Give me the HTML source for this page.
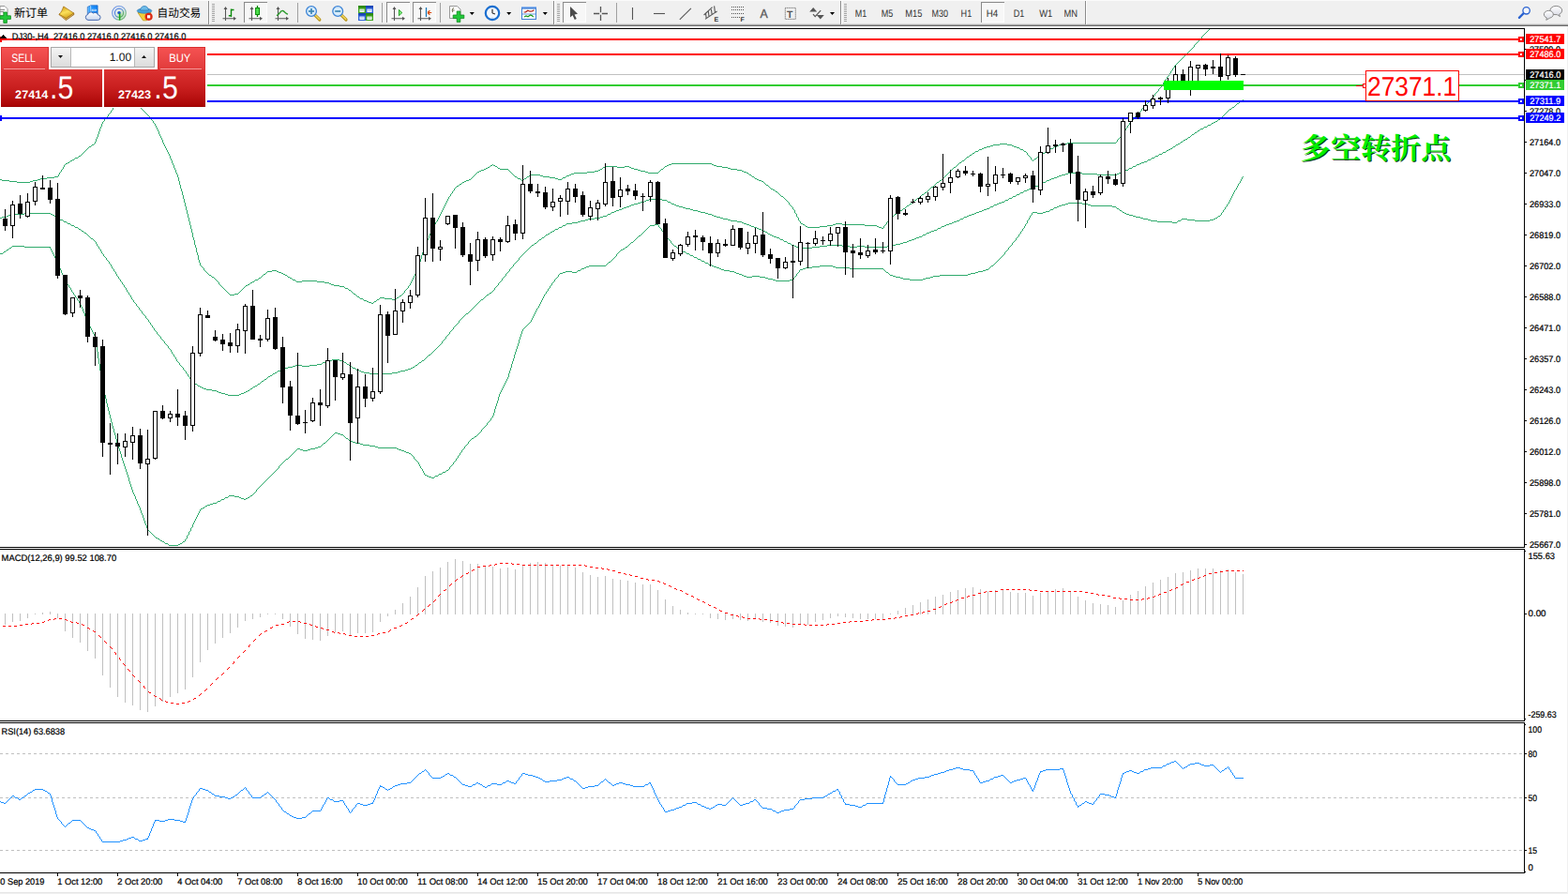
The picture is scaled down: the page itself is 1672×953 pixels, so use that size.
<!DOCTYPE html>
<html><head><meta charset="utf-8"><title>DJ30-,H4</title>
<style>
html,body{margin:0;padding:0;background:#fff;}
body{width:1672px;height:953px;overflow:hidden;position:relative;font-family:"Liberation Sans",sans-serif;}
svg{position:absolute;left:0;top:0;display:block;font-family:"Liberation Sans",sans-serif;}
</style></head><body>
<svg width="1672" height="953" viewBox="0 0 1672 953" text-rendering="geometricPrecision">
<defs><clipPath id="cpMain"><rect x="0" y="31" width="1625" height="552"/></clipPath></defs>
<!-- chart -->
<rect x="0" y="0" width="1672" height="953" fill="#fff"/>
<g shape-rendering="crispEdges">
<rect x="1626" y="580" width="2" height="1" fill="#000"/>
<rect x="1626" y="547" width="2" height="1" fill="#000"/>
<rect x="1626" y="514" width="2" height="1" fill="#000"/>
<rect x="1626" y="481" width="2" height="1" fill="#000"/>
<rect x="1626" y="448" width="2" height="1" fill="#000"/>
<rect x="1626" y="415" width="2" height="1" fill="#000"/>
<rect x="1626" y="382" width="2" height="1" fill="#000"/>
<rect x="1626" y="349" width="2" height="1" fill="#000"/>
<rect x="1626" y="316" width="2" height="1" fill="#000"/>
<rect x="1626" y="283" width="2" height="1" fill="#000"/>
<rect x="1626" y="250" width="2" height="1" fill="#000"/>
<rect x="1626" y="217" width="2" height="1" fill="#000"/>
<rect x="1626" y="184" width="2" height="1" fill="#000"/>
<rect x="1626" y="151" width="2" height="1" fill="#000"/>
<rect x="1626" y="118" width="2" height="1" fill="#000"/>
<rect x="1626" y="85" width="2" height="1" fill="#000"/>
<rect x="1626" y="52" width="2" height="1" fill="#000"/>
</g>
<text x="1631" y="583.9" font-size="9.6" fill="#000" stroke="#000" stroke-width="0.22" textLength="33" lengthAdjust="spacingAndGlyphs">25667.0</text>
<text x="1631" y="550.9" font-size="9.6" fill="#000" stroke="#000" stroke-width="0.22" textLength="33" lengthAdjust="spacingAndGlyphs">25781.0</text>
<text x="1631" y="517.9" font-size="9.6" fill="#000" stroke="#000" stroke-width="0.22" textLength="33" lengthAdjust="spacingAndGlyphs">25898.0</text>
<text x="1631" y="484.9" font-size="9.6" fill="#000" stroke="#000" stroke-width="0.22" textLength="33" lengthAdjust="spacingAndGlyphs">26012.0</text>
<text x="1631" y="451.9" font-size="9.6" fill="#000" stroke="#000" stroke-width="0.22" textLength="33" lengthAdjust="spacingAndGlyphs">26126.0</text>
<text x="1631" y="418.9" font-size="9.6" fill="#000" stroke="#000" stroke-width="0.22" textLength="33" lengthAdjust="spacingAndGlyphs">26243.0</text>
<text x="1631" y="385.9" font-size="9.6" fill="#000" stroke="#000" stroke-width="0.22" textLength="33" lengthAdjust="spacingAndGlyphs">26357.0</text>
<text x="1631" y="352.9" font-size="9.6" fill="#000" stroke="#000" stroke-width="0.22" textLength="33" lengthAdjust="spacingAndGlyphs">26471.0</text>
<text x="1631" y="319.9" font-size="9.6" fill="#000" stroke="#000" stroke-width="0.22" textLength="33" lengthAdjust="spacingAndGlyphs">26588.0</text>
<text x="1631" y="286.9" font-size="9.6" fill="#000" stroke="#000" stroke-width="0.22" textLength="33" lengthAdjust="spacingAndGlyphs">26702.0</text>
<text x="1631" y="253.9" font-size="9.6" fill="#000" stroke="#000" stroke-width="0.22" textLength="33" lengthAdjust="spacingAndGlyphs">26819.0</text>
<text x="1631" y="220.9" font-size="9.6" fill="#000" stroke="#000" stroke-width="0.22" textLength="33" lengthAdjust="spacingAndGlyphs">26933.0</text>
<text x="1631" y="187.9" font-size="9.6" fill="#000" stroke="#000" stroke-width="0.22" textLength="33" lengthAdjust="spacingAndGlyphs">27047.0</text>
<text x="1631" y="154.9" font-size="9.6" fill="#000" stroke="#000" stroke-width="0.22" textLength="33" lengthAdjust="spacingAndGlyphs">27164.0</text>
<text x="1631" y="121.9" font-size="9.6" fill="#000" stroke="#000" stroke-width="0.22" textLength="33" lengthAdjust="spacingAndGlyphs">27278.0</text>
<text x="1631" y="88.9" font-size="9.6" fill="#000" stroke="#000" stroke-width="0.22" textLength="33" lengthAdjust="spacingAndGlyphs">27392.0</text>
<text x="1631" y="55.9" font-size="9.6" fill="#000" stroke="#000" stroke-width="0.22" textLength="33" lengthAdjust="spacingAndGlyphs">27509.0</text>
<g fill="none" stroke="#2faa6c" stroke-width="1" shape-rendering="crispEdges">
<path d="M1289,31.5h1M1288,32.5h1M1287,33.5h1M1286,34.5h1M1285,35.5h1M1284,36.5h1M1283,37.5h1M1282,38.5h1M1281,39.5h1M1281,40.5h1M1280,41.5h1M1279,42.5h1M1278,43.5h1M1277,44.5h1M1276,45.5h1M1275,46.5h1M1274,47.5h1M1273,48.5h1M1273,49.5h1M1272,50.5h1M1271,51.5h1M1270,52.5h1M1269,53.5h1M1268,54.5h1M1267,55.5h1M1266,56.5h1M1265,57.5h1M1264,58.5h1M1263,59.5h1M1262,60.5h1M1261,61.5h1M1260,62.5h1M1259,63.5h1M1258,64.5h1M1257,65.5h1M1256,66.5h1M1255,67.5h1M1254,68.5h1M1253,69.5h1M1252,70.5h1M1252,71.5h1M1251,72.5h1M1250,73.5h1M1250,74.5h1M1249,75.5h1M1248,76.5h1M1248,77.5h1M1247,78.5h1M1246,79.5h1M1246,80.5h1M1245,81.5h1M1244,82.5h1M1244,83.5h1M1243,84.5h1M1242,85.5h1M1242,86.5h1M1241,87.5h1M1240,88.5h1M1240,89.5h1M1239,90.5h1M1238,91.5h1M1238,92.5h1M1237,93.5h1M1236,94.5h1M1235,95.5h1M1235,96.5h1M1234,97.5h1M1233,98.5h1M1232,99.5h1M1231,100.5h1M1231,101.5h1M1230,102.5h1M1229,103.5h1M1228,104.5h1M132,105.5h4M1227,105.5h1M129,106.5h3M136,106.5h3M1226,106.5h1M127,107.5h2M139,107.5h3M1225,107.5h1M125,108.5h2M142,108.5h1M1225,108.5h1M124,109.5h1M143,109.5h1M1224,109.5h1M124,110.5h1M144,110.5h1M1223,110.5h1M123,111.5h1M145,111.5h2M1222,111.5h1M122,112.5h1M147,112.5h1M1221,112.5h1M122,113.5h1M148,113.5h1M1220,113.5h1M121,114.5h1M149,114.5h1M1219,114.5h1M120,115.5h1M150,115.5h1M1218,115.5h1M120,116.5h1M151,116.5h1M1217,116.5h1M119,117.5h1M152,117.5h1M1217,117.5h1M118,118.5h1M153,118.5h1M1216,118.5h1M118,119.5h1M154,119.5h1M1215,119.5h1M117,120.5h1M155,120.5h1M1214,120.5h1M116,121.5h1M156,121.5h1M1213,121.5h1M115,122.5h1M157,122.5h1M1212,122.5h1M115,123.5h1M158,123.5h1M1211,123.5h1M114,124.5h1M159,124.5h1M1210,124.5h1M113,125.5h1M159,125.5h1M1209,125.5h1M112,126.5h1M160,126.5h1M1209,126.5h1M111,127.5h1M161,127.5h1M1208,127.5h1M111,128.5h1M162,128.5h1M1207,128.5h1M110,129.5h1M163,129.5h1M1206,129.5h1M109,130.5h1M163,130.5h1M1205,130.5h1M109,131.5h1M164,131.5h1M1204,131.5h1M108,132.5h1M165,132.5h1M1204,132.5h1M108,133.5h1M165,133.5h1M1203,133.5h1M108,134.5h1M166,134.5h1M1202,134.5h1M107,135.5h1M166,135.5h1M1202,135.5h1M107,136.5h1M167,136.5h1M1201,136.5h1M106,137.5h1M167,137.5h1M1200,137.5h1M106,138.5h1M168,138.5h1M1200,138.5h1M106,139.5h1M168,139.5h1M1199,139.5h1M105,140.5h1M169,140.5h1M1198,140.5h1M105,141.5h1M169,141.5h1M1198,141.5h1M105,142.5h1M169,142.5h1M1197,142.5h1M104,143.5h1M170,143.5h1M1196,143.5h1M104,144.5h1M170,144.5h1M1195,144.5h1M104,145.5h1M171,145.5h1M1195,145.5h1M103,146.5h1M171,146.5h1M1194,146.5h1M103,147.5h1M172,147.5h1M1193,147.5h1M102,148.5h1M172,148.5h1M1192,148.5h1M102,149.5h1M173,149.5h1M1191,149.5h1M102,150.5h1M173,150.5h1M1191,150.5h1M101,151.5h1M173,151.5h1M1190,151.5h1M101,152.5h1M174,152.5h1M1138,152.5h52M100,153.5h1M174,153.5h1M1066,153.5h8M1132,153.5h6M98,154.5h2M175,154.5h1M1059,154.5h7M1074,154.5h5M1129,154.5h3M97,155.5h1M175,155.5h1M1056,155.5h3M1079,155.5h2M1127,155.5h2M95,156.5h2M176,156.5h1M1052,156.5h4M1081,156.5h3M1124,156.5h3M94,157.5h1M176,157.5h1M1049,157.5h3M1084,157.5h3M1123,157.5h1M93,158.5h1M177,158.5h1M1047,158.5h2M1087,158.5h1M1120,158.5h3M92,159.5h1M177,159.5h1M1044,159.5h3M1088,159.5h3M1119,159.5h1M91,160.5h1M178,160.5h1M1043,160.5h1M1091,160.5h1M1117,160.5h2M90,161.5h1M178,161.5h1M1040,161.5h3M1092,161.5h2M1115,161.5h2M89,162.5h1M179,162.5h1M1039,162.5h1M1094,162.5h1M1114,162.5h1M88,163.5h1M179,163.5h1M1037,163.5h2M1095,163.5h1M1112,163.5h2M87,164.5h1M180,164.5h1M1036,164.5h1M1095,164.5h1M1110,164.5h2M86,165.5h1M180,165.5h1M1034,165.5h2M1096,165.5h1M1109,165.5h1M84,166.5h2M181,166.5h1M1033,166.5h1M1097,166.5h1M1108,166.5h1M83,167.5h1M181,167.5h1M1031,167.5h2M1098,167.5h1M1106,167.5h2M80,168.5h3M181,168.5h1M1030,168.5h1M1099,168.5h1M1105,168.5h1M79,169.5h1M182,169.5h1M1029,169.5h1M1099,169.5h1M1103,169.5h2M77,170.5h2M182,170.5h1M1028,170.5h1M1100,170.5h1M1102,170.5h1M75,171.5h2M183,171.5h1M1026,171.5h2M1101,171.5h1M74,172.5h1M183,172.5h1M1025,172.5h1M72,173.5h2M183,173.5h1M1023,173.5h2M70,174.5h2M184,174.5h1M716,174.5h43M1022,174.5h1M69,175.5h1M184,175.5h1M525,175.5h1M713,175.5h3M759,175.5h2M1021,175.5h1M68,176.5h1M185,176.5h1M523,176.5h2M526,176.5h2M711,176.5h2M761,176.5h3M1020,176.5h1M68,177.5h1M185,177.5h1M522,177.5h1M528,177.5h2M645,177.5h13M666,177.5h5M709,177.5h2M764,177.5h6M1019,177.5h1M67,178.5h1M185,178.5h1M520,178.5h2M530,178.5h1M643,178.5h2M658,178.5h8M671,178.5h2M708,178.5h1M770,178.5h6M1017,178.5h2M67,179.5h1M186,179.5h1M518,179.5h2M531,179.5h2M642,179.5h1M673,179.5h3M707,179.5h1M776,179.5h3M1016,179.5h1M66,180.5h1M186,180.5h1M516,180.5h2M533,180.5h9M640,180.5h2M676,180.5h4M705,180.5h2M779,180.5h7M1015,180.5h1M65,181.5h1M187,181.5h1M513,181.5h3M542,181.5h1M638,181.5h2M680,181.5h3M704,181.5h1M786,181.5h5M1014,181.5h1M65,182.5h1M187,182.5h1M511,182.5h2M543,182.5h1M634,182.5h4M683,182.5h5M703,182.5h1M791,182.5h2M1013,182.5h1M64,183.5h1M187,183.5h1M509,183.5h2M544,183.5h1M626,183.5h8M688,183.5h3M702,183.5h1M793,183.5h3M1012,183.5h1M63,184.5h1M188,184.5h1M508,184.5h1M545,184.5h1M612,184.5h14M691,184.5h11M796,184.5h2M1011,184.5h1M63,185.5h1M188,185.5h1M507,185.5h1M546,185.5h1M609,185.5h3M798,185.5h1M1010,185.5h1M62,186.5h1M189,186.5h1M506,186.5h1M547,186.5h1M565,186.5h11M607,186.5h2M799,186.5h2M1009,186.5h1M62,187.5h1M189,187.5h1M505,187.5h1M548,187.5h1M564,187.5h1M576,187.5h3M604,187.5h3M801,187.5h1M1008,187.5h1M58,188.5h4M189,188.5h1M504,188.5h1M549,188.5h2M562,188.5h2M579,188.5h7M603,188.5h1M802,188.5h2M1007,188.5h1M50,189.5h8M190,189.5h1M503,189.5h1M551,189.5h1M561,189.5h1M586,189.5h6M600,189.5h3M804,189.5h1M1006,189.5h1M43,190.5h7M190,190.5h1M502,190.5h1M552,190.5h3M559,190.5h2M592,190.5h3M599,190.5h1M805,190.5h2M1005,190.5h1M0,191.5h2M40,191.5h3M190,191.5h1M500,191.5h2M555,191.5h1M558,191.5h1M595,191.5h4M807,191.5h2M1004,191.5h1M2,192.5h8M35,192.5h5M190,192.5h1M497,192.5h3M556,192.5h2M809,192.5h3M1002,192.5h2M10,193.5h8M32,193.5h3M191,193.5h1M495,193.5h2M812,193.5h2M1001,193.5h1M18,194.5h14M191,194.5h1M493,194.5h2M814,194.5h1M999,194.5h2M191,195.5h1M492,195.5h1M815,195.5h1M998,195.5h1M191,196.5h1M490,196.5h2M816,196.5h1M997,196.5h1M192,197.5h1M489,197.5h1M817,197.5h2M996,197.5h1M192,198.5h1M487,198.5h2M819,198.5h1M995,198.5h1M192,199.5h1M486,199.5h1M820,199.5h1M993,199.5h2M192,200.5h1M485,200.5h1M821,200.5h1M992,200.5h1M193,201.5h1M484,201.5h1M822,201.5h2M991,201.5h1M193,202.5h1M484,202.5h1M824,202.5h2M990,202.5h1M193,203.5h1M483,203.5h1M826,203.5h1M989,203.5h1M194,204.5h1M482,204.5h1M827,204.5h2M988,204.5h1M194,205.5h1M482,205.5h1M829,205.5h1M986,205.5h2M194,206.5h1M481,206.5h1M830,206.5h1M985,206.5h1M194,207.5h1M480,207.5h1M831,207.5h1M983,207.5h2M195,208.5h1M480,208.5h1M832,208.5h1M982,208.5h1M195,209.5h1M479,209.5h1M833,209.5h2M981,209.5h1M195,210.5h1M478,210.5h1M835,210.5h1M980,210.5h1M195,211.5h1M478,211.5h1M836,211.5h1M978,211.5h2M196,212.5h1M477,212.5h1M837,212.5h1M977,212.5h1M196,213.5h1M477,213.5h1M838,213.5h1M975,213.5h2M196,214.5h1M476,214.5h1M839,214.5h1M974,214.5h1M196,215.5h1M476,215.5h1M840,215.5h1M973,215.5h1M197,216.5h1M475,216.5h1M841,216.5h1M972,216.5h1M197,217.5h1M475,217.5h1M841,217.5h1M970,217.5h2M197,218.5h1M474,218.5h1M842,218.5h1M969,218.5h1M197,219.5h1M474,219.5h1M843,219.5h1M967,219.5h2M198,220.5h1M473,220.5h1M844,220.5h1M966,220.5h1M198,221.5h1M473,221.5h1M845,221.5h1M965,221.5h1M198,222.5h1M472,222.5h1M845,222.5h1M963,222.5h2M198,223.5h1M472,223.5h1M846,223.5h1M962,223.5h1M199,224.5h1M471,224.5h1M847,224.5h1M960,224.5h2M199,225.5h1M471,225.5h1M847,225.5h1M958,225.5h2M199,226.5h1M470,226.5h1M847,226.5h1M957,226.5h1M199,227.5h1M470,227.5h1M848,227.5h1M956,227.5h1M200,228.5h1M469,228.5h1M849,228.5h1M954,228.5h2M200,229.5h1M469,229.5h1M849,229.5h1M953,229.5h1M200,230.5h1M468,230.5h1M849,230.5h1M951,230.5h2M200,231.5h1M468,231.5h1M850,231.5h1M950,231.5h1M201,232.5h1M467,232.5h1M851,232.5h1M949,232.5h1M201,233.5h1M467,233.5h1M851,233.5h1M948,233.5h1M201,234.5h1M466,234.5h1M851,234.5h1M948,234.5h1M201,235.5h1M466,235.5h1M852,235.5h1M947,235.5h1M202,236.5h1M465,236.5h1M853,236.5h1M946,236.5h1M202,237.5h1M464,237.5h1M853,237.5h1M945,237.5h1M202,238.5h1M464,238.5h1M854,238.5h2M891,238.5h7M945,238.5h1M202,239.5h1M463,239.5h1M856,239.5h2M888,239.5h3M898,239.5h24M944,239.5h1M203,240.5h1M463,240.5h1M858,240.5h1M882,240.5h6M922,240.5h13M943,240.5h1M203,241.5h1M462,241.5h1M859,241.5h2M874,241.5h8M935,241.5h2M942,241.5h1M203,242.5h1M462,242.5h1M861,242.5h13M937,242.5h3M942,242.5h1M203,243.5h1M461,243.5h1M940,243.5h2M204,244.5h1M461,244.5h1M204,245.5h1M460,245.5h1M204,246.5h1M460,246.5h1M204,247.5h1M459,247.5h1M205,248.5h1M459,248.5h1M205,249.5h1M458,249.5h1M205,250.5h1M458,250.5h1M205,251.5h1M457,251.5h1M205,252.5h1M457,252.5h1M206,253.5h1M457,253.5h1M206,254.5h1M456,254.5h1M206,255.5h1M456,255.5h1M207,256.5h1M455,256.5h1M207,257.5h1M455,257.5h1M207,258.5h1M454,258.5h1M207,259.5h1M454,259.5h1M207,260.5h1M453,260.5h1M208,261.5h1M453,261.5h1M208,262.5h1M453,262.5h1M208,263.5h1M452,263.5h1M209,264.5h1M452,264.5h1M209,265.5h1M452,265.5h1M209,266.5h1M451,266.5h1M209,267.5h1M451,267.5h1M209,268.5h1M451,268.5h1M210,269.5h1M450,269.5h1M210,270.5h1M450,270.5h1M210,271.5h1M450,271.5h1M211,272.5h1M449,272.5h1M211,273.5h1M449,273.5h1M211,274.5h1M449,274.5h1M211,275.5h1M449,275.5h1M211,276.5h1M448,276.5h1M212,277.5h1M448,277.5h1M212,278.5h1M448,278.5h1M212,279.5h1M447,279.5h1M213,280.5h1M447,280.5h1M213,281.5h1M447,281.5h1M213,282.5h1M446,282.5h1M214,283.5h1M446,283.5h1M215,284.5h1M446,284.5h1M216,285.5h1M445,285.5h1M217,286.5h1M445,286.5h1M217,287.5h1M445,287.5h1M218,288.5h1M290,288.5h5M444,288.5h1M219,289.5h1M285,289.5h5M295,289.5h2M444,289.5h1M220,290.5h1M284,290.5h1M297,290.5h3M443,290.5h1M221,291.5h1M283,291.5h1M300,291.5h2M443,291.5h1M222,292.5h1M281,292.5h2M302,292.5h2M442,292.5h1M223,293.5h2M280,293.5h1M304,293.5h2M442,293.5h1M225,294.5h1M279,294.5h1M306,294.5h1M441,294.5h1M226,295.5h2M278,295.5h1M307,295.5h2M441,295.5h1M228,296.5h1M276,296.5h2M309,296.5h2M440,296.5h1M229,297.5h1M275,297.5h1M311,297.5h1M440,297.5h1M230,298.5h1M272,298.5h3M312,298.5h3M439,298.5h1M231,299.5h1M271,299.5h1M315,299.5h1M322,299.5h16M439,299.5h1M232,300.5h1M269,300.5h2M316,300.5h6M338,300.5h8M438,300.5h1M233,301.5h1M267,301.5h2M346,301.5h5M438,301.5h1M233,302.5h1M266,302.5h1M351,302.5h2M437,302.5h1M234,303.5h1M264,303.5h2M353,303.5h3M437,303.5h1M235,304.5h1M262,304.5h2M356,304.5h6M436,304.5h1M236,305.5h1M261,305.5h1M362,305.5h5M435,305.5h1M237,306.5h1M260,306.5h1M367,306.5h1M435,306.5h1M238,307.5h1M259,307.5h1M368,307.5h3M434,307.5h1M239,308.5h1M258,308.5h1M371,308.5h1M433,308.5h1M240,309.5h1M257,309.5h1M372,309.5h2M432,309.5h1M241,310.5h1M256,310.5h1M374,310.5h1M431,310.5h1M242,311.5h1M255,311.5h1M375,311.5h1M431,311.5h1M243,312.5h1M254,312.5h1M376,312.5h1M430,312.5h1M244,313.5h1M250,313.5h4M377,313.5h2M429,313.5h1M245,314.5h5M379,314.5h1M428,314.5h1M380,315.5h1M426,315.5h2M381,316.5h2M425,316.5h1M383,317.5h1M405,317.5h5M423,317.5h2M384,318.5h3M404,318.5h1M410,318.5h8M422,318.5h1M387,319.5h1M402,319.5h2M418,319.5h4M388,320.5h3M401,320.5h1M391,321.5h2M399,321.5h2M393,322.5h3M398,322.5h1M396,323.5h2"/>
<path d="M1325,106.5h1M1324,107.5h1M1322,108.5h2M1321,109.5h1M1319,110.5h2M1318,111.5h1M1317,112.5h1M1316,113.5h1M1314,114.5h2M1313,115.5h1M1311,116.5h2M1310,117.5h1M1309,118.5h1M1308,119.5h1M1307,120.5h1M1306,121.5h1M1305,122.5h1M1304,123.5h1M1303,124.5h1M1302,125.5h1M1301,126.5h1M1299,127.5h2M1298,128.5h1M1296,129.5h2M1294,130.5h2M1292,131.5h2M1291,132.5h1M1288,133.5h3M1287,134.5h1M1284,135.5h3M1283,136.5h1M1280,137.5h3M1279,138.5h1M1277,139.5h2M1276,140.5h1M1274,141.5h2M1273,142.5h1M1271,143.5h2M1270,144.5h1M1269,145.5h1M1267,146.5h2M1266,147.5h1M1264,148.5h2M1262,149.5h2M1261,150.5h1M1259,151.5h2M1258,152.5h1M1256,153.5h2M1254,154.5h2M1253,155.5h1M1251,156.5h2M1250,157.5h1M1248,158.5h2M1246,159.5h2M1244,160.5h2M1243,161.5h1M1240,162.5h3M1239,163.5h1M1236,164.5h3M1235,165.5h1M1232,166.5h3M1231,167.5h1M1228,168.5h3M1227,169.5h1M1224,170.5h3M1223,171.5h1M1220,172.5h3M1217,173.5h3M1215,174.5h2M1212,175.5h3M1211,176.5h1M1208,177.5h3M1207,178.5h1M1204,179.5h3M1203,180.5h1M1200,181.5h3M1199,182.5h1M1196,183.5h3M1139,184.5h15M1193,184.5h3M1136,185.5h3M1154,185.5h16M1191,185.5h2M1132,186.5h4M1170,186.5h21M1129,187.5h3M1127,188.5h2M1124,189.5h3M1121,190.5h3M1119,191.5h2M1116,192.5h3M1115,193.5h1M1112,194.5h3M1111,195.5h1M1108,196.5h3M1107,197.5h1M1104,198.5h3M1103,199.5h1M1100,200.5h3M1097,201.5h3M1095,202.5h2M1092,203.5h3M1091,204.5h1M1088,205.5h3M1087,206.5h1M1084,207.5h3M1083,208.5h1M1080,209.5h3M1079,210.5h1M1076,211.5h3M692,212.5h14M1075,212.5h1M689,213.5h3M706,213.5h5M1072,213.5h3M687,214.5h2M711,214.5h1M1071,214.5h1M683,215.5h4M712,215.5h3M1068,215.5h3M680,216.5h3M715,216.5h1M1065,216.5h3M676,217.5h4M716,217.5h3M1063,217.5h2M673,218.5h3M719,218.5h2M1060,218.5h3M671,219.5h2M721,219.5h3M1059,219.5h1M668,220.5h3M724,220.5h4M1056,220.5h3M665,221.5h3M728,221.5h3M1055,221.5h1M663,222.5h2M731,222.5h5M1052,222.5h3M660,223.5h3M736,223.5h3M1049,223.5h3M657,224.5h3M739,224.5h5M1047,224.5h2M655,225.5h2M744,225.5h3M1044,225.5h3M652,226.5h3M747,226.5h5M1041,226.5h3M26,227.5h28M651,227.5h1M752,227.5h3M1039,227.5h2M12,228.5h14M54,228.5h2M648,228.5h3M755,228.5h4M1036,228.5h3M9,229.5h3M56,229.5h2M647,229.5h1M759,229.5h2M1033,229.5h3M7,230.5h2M58,230.5h1M643,230.5h4M761,230.5h3M1031,230.5h2M2,231.5h5M59,231.5h2M640,231.5h3M764,231.5h4M1028,231.5h3M0,232.5h2M61,232.5h2M634,232.5h6M768,232.5h3M1027,232.5h1M63,233.5h1M627,233.5h7M771,233.5h5M1024,233.5h3M64,234.5h3M624,234.5h3M776,234.5h3M1023,234.5h1M67,235.5h1M619,235.5h5M779,235.5h7M1020,235.5h3M68,236.5h3M616,236.5h3M786,236.5h5M1017,236.5h3M71,237.5h1M610,237.5h6M791,237.5h2M1015,237.5h2M72,238.5h3M604,238.5h6M793,238.5h3M1012,238.5h3M75,239.5h1M603,239.5h1M796,239.5h3M1009,239.5h3M76,240.5h3M600,240.5h3M799,240.5h2M1007,240.5h2M79,241.5h1M599,241.5h1M801,241.5h3M1004,241.5h3M80,242.5h3M596,242.5h3M804,242.5h3M1003,242.5h1M83,243.5h1M595,243.5h1M807,243.5h2M1000,243.5h3M84,244.5h2M592,244.5h3M809,244.5h3M999,244.5h1M86,245.5h1M591,245.5h1M812,245.5h2M996,245.5h3M87,246.5h2M589,246.5h2M814,246.5h2M993,246.5h3M89,247.5h1M587,247.5h2M816,247.5h2M991,247.5h2M90,248.5h2M586,248.5h1M818,248.5h1M988,248.5h3M92,249.5h1M584,249.5h2M819,249.5h2M987,249.5h1M93,250.5h1M582,250.5h2M821,250.5h2M984,250.5h3M94,251.5h1M581,251.5h1M823,251.5h2M983,251.5h1M95,252.5h1M580,252.5h1M825,252.5h3M980,252.5h3M96,253.5h1M578,253.5h2M828,253.5h3M977,253.5h3M97,254.5h2M577,254.5h1M831,254.5h1M975,254.5h2M99,255.5h1M575,255.5h2M832,255.5h3M972,255.5h3M100,256.5h1M574,256.5h1M835,256.5h1M969,256.5h3M101,257.5h1M573,257.5h1M836,257.5h3M967,257.5h2M102,258.5h1M572,258.5h1M839,258.5h1M963,258.5h4M102,259.5h1M570,259.5h2M840,259.5h3M960,259.5h3M103,260.5h1M569,260.5h1M843,260.5h1M955,260.5h5M103,261.5h1M567,261.5h2M844,261.5h3M882,261.5h16M952,261.5h3M104,262.5h1M566,262.5h1M847,262.5h2M874,262.5h8M898,262.5h8M914,262.5h8M946,262.5h6M105,263.5h1M565,263.5h1M849,263.5h3M866,263.5h8M906,263.5h8M922,263.5h24M105,264.5h1M564,264.5h1M852,264.5h14M106,265.5h1M563,265.5h1M107,266.5h1M562,266.5h1M107,267.5h1M561,267.5h1M108,268.5h1M560,268.5h1M108,269.5h1M559,269.5h1M109,270.5h1M558,270.5h1M110,271.5h1M557,271.5h1M110,272.5h1M556,272.5h1M111,273.5h1M555,273.5h1M112,274.5h1M554,274.5h1M113,275.5h1M553,275.5h1M113,276.5h1M553,276.5h1M114,277.5h1M552,277.5h1M115,278.5h1M551,278.5h1M116,279.5h1M550,279.5h1M116,280.5h1M549,280.5h1M117,281.5h1M548,281.5h1M118,282.5h1M547,282.5h1M118,283.5h1M547,283.5h1M119,284.5h1M546,284.5h1M119,285.5h1M545,285.5h1M120,286.5h1M544,286.5h1M121,287.5h1M543,287.5h1M121,288.5h1M543,288.5h1M122,289.5h1M542,289.5h1M123,290.5h1M541,290.5h1M123,291.5h1M540,291.5h1M124,292.5h1M539,292.5h1M124,293.5h1M539,293.5h1M125,294.5h1M538,294.5h1M126,295.5h1M537,295.5h1M126,296.5h1M536,296.5h1M127,297.5h1M535,297.5h1M128,298.5h1M535,298.5h1M128,299.5h1M534,299.5h1M129,300.5h1M533,300.5h1M130,301.5h1M532,301.5h1M130,302.5h1M531,302.5h1M131,303.5h1M531,303.5h1M132,304.5h1M530,304.5h1M132,305.5h1M529,305.5h1M133,306.5h1M528,306.5h1M134,307.5h1M527,307.5h1M134,308.5h1M527,308.5h1M135,309.5h1M526,309.5h1M135,310.5h1M525,310.5h1M136,311.5h1M524,311.5h1M137,312.5h1M522,312.5h2M137,313.5h1M521,313.5h1M138,314.5h1M519,314.5h2M139,315.5h1M518,315.5h1M139,316.5h1M517,316.5h1M140,317.5h1M516,317.5h1M140,318.5h1M515,318.5h1M141,319.5h1M513,319.5h2M142,320.5h1M512,320.5h1M142,321.5h1M511,321.5h1M143,322.5h1M510,322.5h1M144,323.5h1M509,323.5h1M145,324.5h1M508,324.5h1M145,325.5h1M507,325.5h1M146,326.5h1M506,326.5h1M147,327.5h1M505,327.5h1M148,328.5h1M504,328.5h1M148,329.5h1M503,329.5h1M149,330.5h1M502,330.5h1M150,331.5h1M501,331.5h1M151,332.5h1M500,332.5h1M151,333.5h1M499,333.5h1M152,334.5h1M497,334.5h2M153,335.5h1M496,335.5h1M154,336.5h1M495,336.5h1M155,337.5h1M494,337.5h1M155,338.5h1M493,338.5h1M156,339.5h1M492,339.5h1M157,340.5h1M491,340.5h1M158,341.5h1M490,341.5h1M158,342.5h1M489,342.5h1M159,343.5h1M489,343.5h1M160,344.5h1M488,344.5h1M160,345.5h1M487,345.5h1M161,346.5h1M486,346.5h1M162,347.5h1M485,347.5h1M162,348.5h1M484,348.5h1M163,349.5h1M483,349.5h1M164,350.5h1M483,350.5h1M164,351.5h1M482,351.5h1M165,352.5h1M481,352.5h1M166,353.5h1M480,353.5h1M167,354.5h1M479,354.5h1M167,355.5h1M479,355.5h1M168,356.5h1M478,356.5h1M169,357.5h1M477,357.5h1M170,358.5h1M476,358.5h1M171,359.5h1M475,359.5h1M171,360.5h1M475,360.5h1M172,361.5h1M474,361.5h1M173,362.5h1M473,362.5h1M174,363.5h1M472,363.5h1M175,364.5h1M471,364.5h1M175,365.5h1M471,365.5h1M176,366.5h1M470,366.5h1M177,367.5h1M469,367.5h1M178,368.5h1M468,368.5h1M179,369.5h1M467,369.5h1M179,370.5h1M466,370.5h1M180,371.5h1M465,371.5h1M181,372.5h1M464,372.5h1M182,373.5h1M463,373.5h1M182,374.5h1M462,374.5h1M183,375.5h1M461,375.5h1M183,376.5h1M460,376.5h1M184,377.5h1M459,377.5h1M185,378.5h1M457,378.5h2M185,379.5h1M456,379.5h1M186,380.5h1M455,380.5h1M187,381.5h1M454,381.5h1M187,382.5h1M453,382.5h1M188,383.5h1M354,383.5h8M452,383.5h1M188,384.5h1M348,384.5h6M362,384.5h4M450,384.5h2M189,385.5h1M347,385.5h1M366,385.5h1M449,385.5h1M190,386.5h1M344,386.5h3M367,386.5h2M447,386.5h2M191,387.5h1M343,387.5h1M369,387.5h1M446,387.5h1M191,388.5h1M338,388.5h5M370,388.5h2M445,388.5h1M192,389.5h1M315,389.5h7M330,389.5h8M372,389.5h1M443,389.5h2M193,390.5h1M312,390.5h3M322,390.5h8M373,390.5h2M442,390.5h1M194,391.5h1M307,391.5h5M375,391.5h1M440,391.5h2M195,392.5h1M304,392.5h3M376,392.5h3M438,392.5h2M195,393.5h1M300,393.5h4M379,393.5h1M435,393.5h3M196,394.5h1M299,394.5h1M380,394.5h3M432,394.5h3M197,395.5h1M296,395.5h3M383,395.5h2M427,395.5h5M198,396.5h1M295,396.5h1M385,396.5h3M424,396.5h3M198,397.5h1M293,397.5h2M388,397.5h6M418,397.5h6M199,398.5h1M291,398.5h2M394,398.5h24M200,399.5h1M290,399.5h1M200,400.5h1M288,400.5h2M201,401.5h1M286,401.5h2M202,402.5h1M285,402.5h1M202,403.5h1M284,403.5h1M203,404.5h1M282,404.5h2M204,405.5h1M281,405.5h1M204,406.5h1M279,406.5h2M205,407.5h1M278,407.5h1M206,408.5h2M277,408.5h1M208,409.5h2M275,409.5h2M210,410.5h1M274,410.5h1M211,411.5h2M272,411.5h2M213,412.5h2M270,412.5h2M215,413.5h2M269,413.5h1M217,414.5h3M267,414.5h2M220,415.5h6M266,415.5h1M226,416.5h5M264,416.5h2M231,417.5h2M262,417.5h2M233,418.5h3M260,418.5h2M236,419.5h4M257,419.5h3M240,420.5h3M255,420.5h2M243,421.5h12"/>
<path d="M1325,188.5h1M1324,189.5h1M1324,190.5h1M1323,191.5h1M1323,192.5h1M1322,193.5h1M1322,194.5h1M1321,195.5h1M1320,196.5h1M1320,197.5h1M1319,198.5h1M1319,199.5h1M1318,200.5h1M1318,201.5h1M1317,202.5h1M1316,203.5h1M1316,204.5h1M1315,205.5h1M1315,206.5h1M1314,207.5h1M1314,208.5h1M1313,209.5h1M1313,210.5h1M1312,211.5h1M1312,212.5h1M1311,213.5h1M1311,214.5h1M1310,215.5h1M1139,216.5h15M1310,216.5h1M1136,217.5h3M1154,217.5h6M1309,217.5h1M1132,218.5h4M1160,218.5h3M1308,218.5h1M1129,219.5h3M1163,219.5h23M1308,219.5h1M1127,220.5h2M1186,220.5h4M1307,220.5h1M1124,221.5h3M1190,221.5h1M1306,221.5h1M1123,222.5h1M1191,222.5h2M1306,222.5h1M1120,223.5h3M1193,223.5h1M1305,223.5h1M1119,224.5h1M1194,224.5h2M1304,224.5h1M1115,225.5h4M1196,225.5h1M1304,225.5h1M1101,226.5h5M1112,226.5h3M1197,226.5h2M1303,226.5h1M1100,227.5h1M1106,227.5h6M1199,227.5h2M1302,227.5h1M1100,228.5h1M1201,228.5h3M1302,228.5h1M1099,229.5h1M1204,229.5h4M1301,229.5h1M1098,230.5h1M1208,230.5h3M1299,230.5h2M1098,231.5h1M1211,231.5h5M1298,231.5h1M1097,232.5h1M1216,232.5h3M1296,232.5h2M1097,233.5h1M1219,233.5h5M1260,233.5h6M1294,233.5h2M1096,234.5h1M1224,234.5h3M1259,234.5h1M1266,234.5h8M1290,234.5h4M1095,235.5h1M1227,235.5h7M1256,235.5h3M1274,235.5h16M1095,236.5h1M1234,236.5h16M1255,236.5h1M1095,237.5h1M1250,237.5h5M1094,238.5h1M698,239.5h4M1093,239.5h1M693,240.5h5M702,240.5h1M1093,240.5h1M692,241.5h1M702,241.5h1M1092,241.5h1M691,242.5h1M703,242.5h1M1092,242.5h1M690,243.5h1M704,243.5h1M1091,243.5h1M689,244.5h1M705,244.5h1M1090,244.5h1M688,245.5h1M705,245.5h1M1090,245.5h1M687,246.5h1M706,246.5h1M1089,246.5h1M686,247.5h1M707,247.5h1M1088,247.5h1M685,248.5h1M708,248.5h1M1088,248.5h1M684,249.5h1M708,249.5h1M1087,249.5h1M683,250.5h1M709,250.5h1M1086,250.5h1M681,251.5h2M710,251.5h1M1086,251.5h1M680,252.5h1M711,252.5h1M1085,252.5h1M679,253.5h1M711,253.5h1M1084,253.5h1M678,254.5h1M712,254.5h1M1083,254.5h1M677,255.5h1M713,255.5h1M1083,255.5h1M676,256.5h1M714,256.5h1M1082,256.5h1M675,257.5h1M715,257.5h1M1081,257.5h1M673,258.5h2M715,258.5h1M1080,258.5h1M672,259.5h1M716,259.5h1M1079,259.5h1M671,260.5h1M717,260.5h1M1079,260.5h1M670,261.5h1M718,261.5h1M1078,261.5h1M13,262.5h13M669,262.5h1M719,262.5h2M1077,262.5h1M12,263.5h1M26,263.5h28M667,263.5h2M721,263.5h1M1076,263.5h1M10,264.5h2M53,264.5h1M666,264.5h1M722,264.5h2M1075,264.5h1M9,265.5h1M54,265.5h1M664,265.5h2M724,265.5h1M1075,265.5h1M7,266.5h2M54,266.5h1M662,266.5h2M725,266.5h2M1074,266.5h1M6,267.5h1M55,267.5h1M661,267.5h1M727,267.5h1M1073,267.5h1M4,268.5h2M55,268.5h1M660,268.5h1M728,268.5h3M1072,268.5h1M3,269.5h1M56,269.5h1M659,269.5h1M731,269.5h1M1071,269.5h1M0,270.5h3M56,270.5h1M658,270.5h1M732,270.5h3M1071,270.5h1M57,271.5h1M657,271.5h1M735,271.5h1M1070,271.5h1M57,272.5h1M657,272.5h1M736,272.5h3M1069,272.5h1M58,273.5h1M656,273.5h1M739,273.5h1M1068,273.5h1M58,274.5h1M655,274.5h1M740,274.5h3M1067,274.5h1M59,275.5h1M654,275.5h1M743,275.5h1M1066,275.5h1M59,276.5h1M653,276.5h1M744,276.5h3M1065,276.5h1M60,277.5h1M652,277.5h1M747,277.5h1M1064,277.5h1M60,278.5h1M651,278.5h1M748,278.5h3M1063,278.5h1M61,279.5h1M649,279.5h2M751,279.5h1M1062,279.5h1M61,280.5h1M648,280.5h1M752,280.5h3M1061,280.5h1M61,281.5h1M647,281.5h1M755,281.5h1M1060,281.5h1M62,282.5h1M646,282.5h1M756,282.5h3M1059,282.5h1M62,283.5h1M628,283.5h18M759,283.5h2M874,283.5h14M1057,283.5h2M63,284.5h1M625,284.5h3M761,284.5h3M866,284.5h8M888,284.5h3M1056,284.5h1M63,285.5h1M623,285.5h2M764,285.5h3M859,285.5h7M891,285.5h15M1055,285.5h1M64,286.5h1M620,286.5h3M767,286.5h2M856,286.5h3M906,286.5h36M1054,286.5h1M64,287.5h1M619,287.5h1M769,287.5h3M853,287.5h3M942,287.5h1M1051,287.5h3M65,288.5h1M616,288.5h3M772,288.5h6M852,288.5h1M943,288.5h1M1048,288.5h3M65,289.5h1M603,289.5h7M615,289.5h1M778,289.5h5M852,289.5h1M944,289.5h1M1043,289.5h5M65,290.5h1M600,290.5h3M610,290.5h5M783,290.5h2M851,290.5h1M945,290.5h2M1040,290.5h3M66,291.5h1M597,291.5h3M785,291.5h3M850,291.5h1M947,291.5h1M1035,291.5h5M66,292.5h1M596,292.5h1M788,292.5h3M849,292.5h1M948,292.5h1M1032,292.5h3M67,293.5h1M595,293.5h1M791,293.5h2M849,293.5h1M949,293.5h3M1002,293.5h30M67,294.5h1M595,294.5h1M793,294.5h3M802,294.5h8M848,294.5h1M952,294.5h3M995,294.5h7M68,295.5h1M594,295.5h1M796,295.5h6M810,295.5h6M847,295.5h1M955,295.5h5M992,295.5h3M68,296.5h1M593,296.5h1M816,296.5h3M846,296.5h1M960,296.5h3M987,296.5h5M69,297.5h1M592,297.5h1M819,297.5h5M846,297.5h1M963,297.5h7M984,297.5h3M69,298.5h1M591,298.5h1M824,298.5h3M842,298.5h4M970,298.5h14M70,299.5h1M591,299.5h1M827,299.5h15M70,300.5h1M590,300.5h1M71,301.5h1M589,301.5h1M71,302.5h1M588,302.5h1M72,303.5h1M588,303.5h1M73,304.5h1M587,304.5h1M73,305.5h1M586,305.5h1M74,306.5h1M586,306.5h1M75,307.5h1M585,307.5h1M75,308.5h1M584,308.5h1M76,309.5h1M584,309.5h1M76,310.5h1M583,310.5h1M77,311.5h1M582,311.5h1M78,312.5h1M582,312.5h1M78,313.5h1M581,313.5h1M79,314.5h1M580,314.5h1M80,315.5h1M580,315.5h1M80,316.5h1M579,316.5h1M81,317.5h1M579,317.5h1M82,318.5h1M578,318.5h1M82,319.5h1M578,319.5h1M83,320.5h1M577,320.5h1M84,321.5h1M577,321.5h1M84,322.5h1M576,322.5h1M85,323.5h1M576,323.5h1M85,324.5h1M575,324.5h1M86,325.5h1M575,325.5h1M86,326.5h1M574,326.5h1M87,327.5h1M574,327.5h1M87,328.5h1M573,328.5h1M88,329.5h1M572,329.5h1M88,330.5h1M572,330.5h1M88,331.5h1M571,331.5h1M89,332.5h1M571,332.5h1M89,333.5h1M570,333.5h1M90,334.5h1M570,334.5h1M90,335.5h1M569,335.5h1M90,336.5h1M569,336.5h1M91,337.5h1M568,337.5h1M91,338.5h1M568,338.5h1M92,339.5h1M567,339.5h1M92,340.5h1M567,340.5h1M93,341.5h1M566,341.5h1M93,342.5h1M566,342.5h1M93,343.5h1M565,343.5h1M94,344.5h1M564,344.5h1M94,345.5h1M563,345.5h1M95,346.5h1M562,346.5h1M95,347.5h1M561,347.5h1M96,348.5h1M560,348.5h1M96,349.5h1M559,349.5h1M97,350.5h1M558,350.5h1M97,351.5h1M557,351.5h1M98,352.5h1M557,352.5h1M98,353.5h1M556,353.5h1M99,354.5h1M556,354.5h1M99,355.5h1M556,355.5h1M100,356.5h1M555,356.5h1M100,357.5h1M555,357.5h1M101,358.5h1M555,358.5h1M101,359.5h1M554,359.5h1M101,360.5h1M554,360.5h1M101,361.5h1M554,361.5h1M101,362.5h1M553,362.5h1M102,363.5h1M553,363.5h1M102,364.5h1M553,364.5h1M102,365.5h1M553,365.5h1M102,366.5h1M552,366.5h1M102,367.5h1M552,367.5h1M102,368.5h1M552,368.5h1M103,369.5h1M551,369.5h1M103,370.5h1M551,370.5h1M103,371.5h1M551,371.5h1M103,372.5h1M550,372.5h1M103,373.5h1M550,373.5h1M103,374.5h1M550,374.5h1M104,375.5h1M549,375.5h1M104,376.5h1M549,376.5h1M104,377.5h1M549,377.5h1M104,378.5h1M548,378.5h1M104,379.5h1M548,379.5h1M104,380.5h1M548,380.5h1M104,381.5h1M548,381.5h1M105,382.5h1M547,382.5h1M105,383.5h1M547,383.5h1M105,384.5h1M547,384.5h1M105,385.5h1M546,385.5h1M105,386.5h1M546,386.5h1M105,387.5h1M546,387.5h1M106,388.5h1M545,388.5h1M106,389.5h1M545,389.5h1M106,390.5h1M545,390.5h1M106,391.5h1M545,391.5h1M106,392.5h1M544,392.5h1M106,393.5h1M544,393.5h1M106,394.5h1M544,394.5h1M107,395.5h1M543,395.5h1M107,396.5h1M543,396.5h1M107,397.5h1M543,397.5h1M107,398.5h1M542,398.5h1M107,399.5h1M542,399.5h1M107,400.5h1M542,400.5h1M108,401.5h1M542,401.5h1M108,402.5h1M541,402.5h1M108,403.5h1M541,403.5h1M108,404.5h1M540,404.5h1M108,405.5h1M540,405.5h1M108,406.5h1M539,406.5h1M109,407.5h1M539,407.5h1M109,408.5h1M538,408.5h1M109,409.5h1M538,409.5h1M109,410.5h1M537,410.5h1M109,411.5h1M537,411.5h1M109,412.5h1M536,412.5h1M110,413.5h1M536,413.5h1M110,414.5h1M535,414.5h1M110,415.5h1M535,415.5h1M110,416.5h1M534,416.5h1M111,417.5h1M534,417.5h1M111,418.5h1M533,418.5h1M111,419.5h1M533,419.5h1M111,420.5h1M532,420.5h1M112,421.5h1M532,421.5h1M112,422.5h1M532,422.5h1M112,423.5h1M531,423.5h1M112,424.5h1M531,424.5h1M113,425.5h1M531,425.5h1M113,426.5h1M531,426.5h1M113,427.5h1M530,427.5h1M113,428.5h1M530,428.5h1M113,429.5h1M530,429.5h1M114,430.5h1M529,430.5h1M114,431.5h1M529,431.5h1M114,432.5h1M529,432.5h1M114,433.5h1M528,433.5h1M115,434.5h1M528,434.5h1M115,435.5h1M528,435.5h1M115,436.5h1M527,436.5h1M115,437.5h1M527,437.5h1M116,438.5h1M527,438.5h1M116,439.5h1M527,439.5h1M116,440.5h1M526,440.5h1M116,441.5h1M526,441.5h1M117,442.5h1M526,442.5h1M117,443.5h1M525,443.5h1M117,444.5h1M525,444.5h1M117,445.5h1M524,445.5h1M118,446.5h1M523,446.5h1M118,447.5h1M523,447.5h1M118,448.5h1M522,448.5h1M118,449.5h1M521,449.5h1M119,450.5h1M520,450.5h1M119,451.5h1M519,451.5h1M119,452.5h1M519,452.5h1M119,453.5h1M518,453.5h1M120,454.5h1M517,454.5h1M120,455.5h1M516,455.5h1M120,456.5h1M515,456.5h1M121,457.5h1M514,457.5h1M121,458.5h1M513,458.5h1M121,459.5h1M513,459.5h1M121,460.5h1M512,460.5h1M122,461.5h1M357,461.5h3M511,461.5h1M122,462.5h1M356,462.5h1M360,462.5h3M510,462.5h1M122,463.5h1M355,463.5h1M363,463.5h3M509,463.5h1M123,464.5h1M354,464.5h1M366,464.5h1M508,464.5h1M123,465.5h1M353,465.5h1M367,465.5h1M506,465.5h2M123,466.5h1M352,466.5h1M368,466.5h1M505,466.5h1M123,467.5h1M351,467.5h1M369,467.5h2M503,467.5h2M124,468.5h1M350,468.5h1M371,468.5h1M502,468.5h1M124,469.5h1M349,469.5h1M372,469.5h1M501,469.5h1M124,470.5h1M348,470.5h1M373,470.5h3M500,470.5h1M124,471.5h1M347,471.5h1M376,471.5h3M499,471.5h1M125,472.5h1M345,472.5h2M379,472.5h5M499,472.5h1M125,473.5h1M344,473.5h1M384,473.5h3M498,473.5h1M125,474.5h1M343,474.5h1M387,474.5h7M497,474.5h1M126,475.5h1M342,475.5h1M394,475.5h6M496,475.5h1M126,476.5h1M339,476.5h3M400,476.5h3M495,476.5h1M126,477.5h1M336,477.5h3M403,477.5h20M495,477.5h1M127,478.5h1M317,478.5h3M331,478.5h5M423,478.5h2M494,478.5h1M127,479.5h1M316,479.5h1M320,479.5h3M328,479.5h3M425,479.5h3M493,479.5h1M127,480.5h1M315,480.5h1M323,480.5h5M428,480.5h3M492,480.5h1M128,481.5h1M314,481.5h1M431,481.5h2M492,481.5h1M128,482.5h1M313,482.5h1M433,482.5h3M491,482.5h1M128,483.5h1M312,483.5h1M436,483.5h2M490,483.5h1M129,484.5h1M311,484.5h1M438,484.5h1M490,484.5h1M129,485.5h1M310,485.5h1M439,485.5h1M489,485.5h1M129,486.5h1M309,486.5h1M440,486.5h1M488,486.5h1M129,487.5h1M308,487.5h1M441,487.5h1M488,487.5h1M130,488.5h1M307,488.5h1M441,488.5h1M487,488.5h1M130,489.5h1M305,489.5h2M442,489.5h1M486,489.5h1M130,490.5h1M304,490.5h1M443,490.5h1M486,490.5h1M131,491.5h1M303,491.5h1M444,491.5h1M485,491.5h1M131,492.5h1M302,492.5h1M445,492.5h1M484,492.5h1M131,493.5h1M301,493.5h1M446,493.5h1M483,493.5h1M132,494.5h1M300,494.5h1M446,494.5h1M483,494.5h1M132,495.5h1M299,495.5h1M447,495.5h1M482,495.5h1M132,496.5h1M298,496.5h1M447,496.5h1M481,496.5h1M133,497.5h1M297,497.5h1M448,497.5h1M480,497.5h1M133,498.5h1M297,498.5h1M448,498.5h1M479,498.5h1M133,499.5h1M296,499.5h1M449,499.5h1M479,499.5h1M134,500.5h1M295,500.5h1M450,500.5h1M478,500.5h1M134,501.5h1M294,501.5h1M450,501.5h1M476,501.5h2M134,502.5h1M293,502.5h1M451,502.5h1M475,502.5h1M135,503.5h1M292,503.5h1M451,503.5h1M472,503.5h3M135,504.5h1M291,504.5h1M452,504.5h1M471,504.5h1M135,505.5h1M290,505.5h1M452,505.5h1M468,505.5h3M136,506.5h1M289,506.5h1M453,506.5h2M467,506.5h1M136,507.5h1M288,507.5h1M455,507.5h2M464,507.5h3M136,508.5h1M287,508.5h1M457,508.5h3M463,508.5h1M137,509.5h1M286,509.5h1M460,509.5h3M137,510.5h1M285,510.5h1M137,511.5h1M284,511.5h1M137,512.5h1M283,512.5h1M138,513.5h1M282,513.5h1M138,514.5h1M281,514.5h1M138,515.5h1M280,515.5h1M139,516.5h1M279,516.5h1M139,517.5h1M278,517.5h1M139,518.5h1M277,518.5h1M140,519.5h1M276,519.5h1M140,520.5h1M275,520.5h1M140,521.5h1M274,521.5h1M141,522.5h1M273,522.5h1M141,523.5h1M273,523.5h1M141,524.5h1M272,524.5h1M142,525.5h1M271,525.5h1M142,526.5h1M270,526.5h1M143,527.5h1M269,527.5h1M143,528.5h1M244,528.5h6M267,528.5h2M144,529.5h1M243,529.5h1M250,529.5h5M266,529.5h1M144,530.5h1M240,530.5h3M255,530.5h2M264,530.5h2M144,531.5h1M239,531.5h1M257,531.5h3M262,531.5h2M145,532.5h1M236,532.5h3M260,532.5h2M145,533.5h1M235,533.5h1M146,534.5h1M232,534.5h3M146,535.5h1M231,535.5h1M146,536.5h1M227,536.5h4M147,537.5h1M224,537.5h3M147,538.5h1M221,538.5h3M148,539.5h1M219,539.5h2M148,540.5h1M218,540.5h1M149,541.5h1M216,541.5h2M149,542.5h1M214,542.5h2M149,543.5h1M213,543.5h1M150,544.5h1M213,544.5h1M150,545.5h1M212,545.5h1M150,546.5h1M212,546.5h1M151,547.5h1M211,547.5h1M151,548.5h1M211,548.5h1M152,549.5h1M210,549.5h1M152,550.5h1M210,550.5h1M152,551.5h1M209,551.5h1M153,552.5h1M209,552.5h1M153,553.5h1M208,553.5h1M153,554.5h1M208,554.5h1M154,555.5h1M207,555.5h1M154,556.5h1M207,556.5h1M154,557.5h1M206,557.5h1M155,558.5h1M206,558.5h1M155,559.5h1M205,559.5h1M156,560.5h1M205,560.5h1M156,561.5h1M205,561.5h1M156,562.5h1M204,562.5h1M157,563.5h1M203,563.5h1M157,564.5h1M203,564.5h1M158,565.5h1M203,565.5h1M159,566.5h1M202,566.5h1M160,567.5h1M201,567.5h1M161,568.5h1M201,568.5h1M162,569.5h1M201,569.5h1M163,570.5h1M200,570.5h1M164,571.5h1M199,571.5h1M165,572.5h1M199,572.5h1M166,573.5h2M199,573.5h1M168,574.5h2M198,574.5h1M170,575.5h1M197,575.5h1M171,576.5h2M197,576.5h1M173,577.5h2M195,577.5h2M175,578.5h1M194,578.5h1M176,579.5h3M192,579.5h2M179,580.5h1M190,580.5h2M180,581.5h10"/>
</g>
<g shape-rendering="crispEdges">
<rect x="0" y="79" width="1625" height="1" fill="#c0c0c0"/>
<rect x="0" y="41" width="1625" height="2" fill="#ff0000"/>
<rect x="0" y="57" width="1625" height="2" fill="#ff0000"/>
<rect x="0" y="90" width="1625" height="2" fill="#32cd32"/>
<rect x="0" y="107" width="1625" height="2" fill="#0000ff"/>
<rect x="0" y="125" width="1625" height="2" fill="#0000ff"/>
</g>
<g shape-rendering="crispEdges">
<rect x="5" y="223" width="1" height="23" fill="#000"/>
<rect x="3" y="233" width="5" height="8" fill="#000"/>
<rect x="13" y="214" width="1" height="40" fill="#000"/>
<rect x="11" y="218" width="5" height="23" fill="#000"/>
<rect x="12" y="219" width="3" height="21" fill="#fff"/>
<rect x="21" y="208" width="1" height="25" fill="#000"/>
<rect x="19" y="217" width="5" height="11" fill="#000"/>
<rect x="29" y="206" width="1" height="26" fill="#000"/>
<rect x="27" y="215" width="5" height="16" fill="#000"/>
<rect x="28" y="216" width="3" height="14" fill="#fff"/>
<rect x="37" y="194" width="1" height="25" fill="#000"/>
<rect x="35" y="199" width="5" height="16" fill="#000"/>
<rect x="36" y="200" width="3" height="14" fill="#fff"/>
<rect x="45" y="187" width="1" height="15" fill="#000"/>
<rect x="43" y="200" width="5" height="2" fill="#000"/>
<rect x="53" y="192" width="1" height="25" fill="#000"/>
<rect x="51" y="200" width="5" height="13" fill="#000"/>
<rect x="61" y="195" width="1" height="102" fill="#000"/>
<rect x="59" y="212" width="5" height="82" fill="#000"/>
<rect x="69" y="293" width="1" height="43" fill="#000"/>
<rect x="67" y="293" width="5" height="42" fill="#000"/>
<rect x="77" y="317" width="1" height="21" fill="#000"/>
<rect x="75" y="317" width="5" height="17" fill="#000"/>
<rect x="76" y="318" width="3" height="15" fill="#fff"/>
<rect x="85" y="309" width="1" height="19" fill="#000"/>
<rect x="83" y="315" width="5" height="3" fill="#000"/>
<rect x="93" y="315" width="1" height="50" fill="#000"/>
<rect x="91" y="317" width="5" height="42" fill="#000"/>
<rect x="101" y="354" width="1" height="36" fill="#000"/>
<rect x="99" y="359" width="5" height="11" fill="#000"/>
<rect x="109" y="362" width="1" height="125" fill="#000"/>
<rect x="107" y="369" width="5" height="103" fill="#000"/>
<rect x="117" y="451" width="1" height="55" fill="#000"/>
<rect x="115" y="472" width="5" height="2" fill="#000"/>
<rect x="125" y="462" width="1" height="33" fill="#000"/>
<rect x="123" y="472" width="5" height="4" fill="#000"/>
<rect x="133" y="462" width="1" height="25" fill="#000"/>
<rect x="131" y="470" width="5" height="7" fill="#000"/>
<rect x="132" y="471" width="3" height="5" fill="#fff"/>
<rect x="141" y="455" width="1" height="35" fill="#000"/>
<rect x="139" y="464" width="5" height="8" fill="#000"/>
<rect x="140" y="465" width="3" height="6" fill="#fff"/>
<rect x="149" y="457" width="1" height="43" fill="#000"/>
<rect x="147" y="464" width="5" height="30" fill="#000"/>
<rect x="157" y="458" width="1" height="113" fill="#000"/>
<rect x="155" y="489" width="5" height="6" fill="#000"/>
<rect x="156" y="490" width="3" height="4" fill="#fff"/>
<rect x="165" y="438" width="1" height="52" fill="#000"/>
<rect x="163" y="438" width="5" height="51" fill="#000"/>
<rect x="164" y="439" width="3" height="49" fill="#fff"/>
<rect x="173" y="432" width="1" height="15" fill="#000"/>
<rect x="171" y="438" width="5" height="8" fill="#000"/>
<rect x="181" y="438" width="1" height="12" fill="#000"/>
<rect x="179" y="441" width="5" height="5" fill="#000"/>
<rect x="180" y="442" width="3" height="3" fill="#fff"/>
<rect x="189" y="415" width="1" height="39" fill="#000"/>
<rect x="187" y="441" width="5" height="4" fill="#000"/>
<rect x="197" y="438" width="1" height="31" fill="#000"/>
<rect x="195" y="443" width="5" height="11" fill="#000"/>
<rect x="205" y="369" width="1" height="91" fill="#000"/>
<rect x="203" y="376" width="5" height="78" fill="#000"/>
<rect x="204" y="377" width="3" height="76" fill="#fff"/>
<rect x="213" y="328" width="1" height="52" fill="#000"/>
<rect x="211" y="335" width="5" height="42" fill="#000"/>
<rect x="212" y="336" width="3" height="40" fill="#fff"/>
<rect x="221" y="331" width="1" height="8" fill="#000"/>
<rect x="219" y="336" width="5" height="3" fill="#000"/>
<rect x="229" y="352" width="1" height="12" fill="#000"/>
<rect x="227" y="359" width="5" height="4" fill="#000"/>
<rect x="237" y="356" width="1" height="18" fill="#000"/>
<rect x="235" y="362" width="5" height="5" fill="#000"/>
<rect x="245" y="355" width="1" height="21" fill="#000"/>
<rect x="243" y="365" width="5" height="4" fill="#000"/>
<rect x="253" y="345" width="1" height="31" fill="#000"/>
<rect x="251" y="351" width="5" height="18" fill="#000"/>
<rect x="252" y="352" width="3" height="16" fill="#fff"/>
<rect x="261" y="324" width="1" height="53" fill="#000"/>
<rect x="259" y="326" width="5" height="27" fill="#000"/>
<rect x="260" y="327" width="3" height="25" fill="#fff"/>
<rect x="269" y="309" width="1" height="53" fill="#000"/>
<rect x="267" y="326" width="5" height="36" fill="#000"/>
<rect x="277" y="357" width="1" height="13" fill="#000"/>
<rect x="275" y="361" width="5" height="2" fill="#000"/>
<rect x="285" y="330" width="1" height="34" fill="#000"/>
<rect x="283" y="339" width="5" height="23" fill="#000"/>
<rect x="284" y="340" width="3" height="21" fill="#fff"/>
<rect x="293" y="328" width="1" height="45" fill="#000"/>
<rect x="291" y="338" width="5" height="34" fill="#000"/>
<rect x="301" y="359" width="1" height="71" fill="#000"/>
<rect x="299" y="370" width="5" height="43" fill="#000"/>
<rect x="309" y="406" width="1" height="53" fill="#000"/>
<rect x="307" y="412" width="5" height="31" fill="#000"/>
<rect x="317" y="376" width="1" height="77" fill="#000"/>
<rect x="315" y="443" width="5" height="9" fill="#000"/>
<rect x="325" y="437" width="1" height="25" fill="#000"/>
<rect x="323" y="450" width="5" height="1" fill="#000"/>
<rect x="333" y="424" width="1" height="26" fill="#000"/>
<rect x="331" y="429" width="5" height="20" fill="#000"/>
<rect x="332" y="430" width="3" height="18" fill="#fff"/>
<rect x="341" y="415" width="1" height="39" fill="#000"/>
<rect x="339" y="429" width="5" height="3" fill="#000"/>
<rect x="349" y="371" width="1" height="64" fill="#000"/>
<rect x="347" y="384" width="5" height="49" fill="#000"/>
<rect x="348" y="385" width="3" height="47" fill="#fff"/>
<rect x="357" y="384" width="1" height="43" fill="#000"/>
<rect x="355" y="384" width="5" height="18" fill="#000"/>
<rect x="365" y="376" width="1" height="29" fill="#000"/>
<rect x="363" y="398" width="5" height="5" fill="#000"/>
<rect x="364" y="399" width="3" height="3" fill="#fff"/>
<rect x="373" y="386" width="1" height="105" fill="#000"/>
<rect x="371" y="399" width="5" height="52" fill="#000"/>
<rect x="381" y="393" width="1" height="80" fill="#000"/>
<rect x="379" y="412" width="5" height="34" fill="#000"/>
<rect x="380" y="413" width="3" height="32" fill="#fff"/>
<rect x="389" y="399" width="1" height="35" fill="#000"/>
<rect x="387" y="412" width="5" height="13" fill="#000"/>
<rect x="397" y="392" width="1" height="36" fill="#000"/>
<rect x="395" y="417" width="5" height="8" fill="#000"/>
<rect x="396" y="418" width="3" height="6" fill="#fff"/>
<rect x="405" y="325" width="1" height="95" fill="#000"/>
<rect x="403" y="335" width="5" height="83" fill="#000"/>
<rect x="404" y="336" width="3" height="81" fill="#fff"/>
<rect x="413" y="332" width="1" height="55" fill="#000"/>
<rect x="411" y="335" width="5" height="23" fill="#000"/>
<rect x="421" y="308" width="1" height="49" fill="#000"/>
<rect x="419" y="331" width="5" height="26" fill="#000"/>
<rect x="420" y="332" width="3" height="24" fill="#fff"/>
<rect x="429" y="319" width="1" height="25" fill="#000"/>
<rect x="427" y="322" width="5" height="10" fill="#000"/>
<rect x="428" y="323" width="3" height="8" fill="#fff"/>
<rect x="437" y="309" width="1" height="20" fill="#000"/>
<rect x="435" y="315" width="5" height="8" fill="#000"/>
<rect x="436" y="316" width="3" height="6" fill="#fff"/>
<rect x="445" y="263" width="1" height="54" fill="#000"/>
<rect x="443" y="272" width="5" height="43" fill="#000"/>
<rect x="444" y="273" width="3" height="41" fill="#fff"/>
<rect x="453" y="211" width="1" height="68" fill="#000"/>
<rect x="451" y="232" width="5" height="40" fill="#000"/>
<rect x="452" y="233" width="3" height="38" fill="#fff"/>
<rect x="461" y="206" width="1" height="73" fill="#000"/>
<rect x="459" y="232" width="5" height="33" fill="#000"/>
<rect x="469" y="256" width="1" height="22" fill="#000"/>
<rect x="467" y="263" width="5" height="3" fill="#000"/>
<rect x="468" y="264" width="3" height="1" fill="#fff"/>
<rect x="477" y="230" width="1" height="10" fill="#000"/>
<rect x="475" y="230" width="5" height="9" fill="#000"/>
<rect x="476" y="231" width="3" height="7" fill="#fff"/>
<rect x="485" y="229" width="1" height="36" fill="#000"/>
<rect x="483" y="229" width="5" height="14" fill="#000"/>
<rect x="493" y="237" width="1" height="37" fill="#000"/>
<rect x="491" y="242" width="5" height="30" fill="#000"/>
<rect x="501" y="259" width="1" height="45" fill="#000"/>
<rect x="499" y="271" width="5" height="8" fill="#000"/>
<rect x="509" y="247" width="1" height="42" fill="#000"/>
<rect x="507" y="255" width="5" height="23" fill="#000"/>
<rect x="508" y="256" width="3" height="21" fill="#fff"/>
<rect x="517" y="253" width="1" height="22" fill="#000"/>
<rect x="515" y="255" width="5" height="18" fill="#000"/>
<rect x="525" y="252" width="1" height="26" fill="#000"/>
<rect x="523" y="255" width="5" height="17" fill="#000"/>
<rect x="524" y="256" width="3" height="15" fill="#fff"/>
<rect x="533" y="253" width="1" height="15" fill="#000"/>
<rect x="531" y="255" width="5" height="3" fill="#000"/>
<rect x="541" y="230" width="1" height="29" fill="#000"/>
<rect x="539" y="240" width="5" height="18" fill="#000"/>
<rect x="540" y="241" width="3" height="16" fill="#fff"/>
<rect x="549" y="234" width="1" height="22" fill="#000"/>
<rect x="547" y="239" width="5" height="10" fill="#000"/>
<rect x="557" y="176" width="1" height="79" fill="#000"/>
<rect x="555" y="196" width="5" height="53" fill="#000"/>
<rect x="556" y="197" width="3" height="51" fill="#fff"/>
<rect x="565" y="182" width="1" height="24" fill="#000"/>
<rect x="563" y="196" width="5" height="8" fill="#000"/>
<rect x="573" y="196" width="1" height="14" fill="#000"/>
<rect x="571" y="204" width="5" height="2" fill="#000"/>
<rect x="581" y="199" width="1" height="24" fill="#000"/>
<rect x="579" y="205" width="5" height="16" fill="#000"/>
<rect x="589" y="201" width="1" height="24" fill="#000"/>
<rect x="587" y="215" width="5" height="6" fill="#000"/>
<rect x="588" y="216" width="3" height="4" fill="#fff"/>
<rect x="597" y="208" width="1" height="23" fill="#000"/>
<rect x="595" y="211" width="5" height="4" fill="#000"/>
<rect x="596" y="212" width="3" height="2" fill="#fff"/>
<rect x="605" y="194" width="1" height="35" fill="#000"/>
<rect x="603" y="201" width="5" height="14" fill="#000"/>
<rect x="604" y="202" width="3" height="12" fill="#fff"/>
<rect x="613" y="196" width="1" height="20" fill="#000"/>
<rect x="611" y="201" width="5" height="9" fill="#000"/>
<rect x="621" y="204" width="1" height="27" fill="#000"/>
<rect x="619" y="208" width="5" height="21" fill="#000"/>
<rect x="629" y="214" width="1" height="21" fill="#000"/>
<rect x="627" y="221" width="5" height="10" fill="#000"/>
<rect x="628" y="222" width="3" height="8" fill="#fff"/>
<rect x="637" y="213" width="1" height="22" fill="#000"/>
<rect x="635" y="216" width="5" height="7" fill="#000"/>
<rect x="636" y="217" width="3" height="5" fill="#fff"/>
<rect x="645" y="174" width="1" height="46" fill="#000"/>
<rect x="643" y="194" width="5" height="24" fill="#000"/>
<rect x="644" y="195" width="3" height="22" fill="#fff"/>
<rect x="653" y="178" width="1" height="42" fill="#000"/>
<rect x="651" y="193" width="5" height="18" fill="#000"/>
<rect x="661" y="189" width="1" height="32" fill="#000"/>
<rect x="659" y="202" width="5" height="8" fill="#000"/>
<rect x="660" y="203" width="3" height="6" fill="#fff"/>
<rect x="669" y="197" width="1" height="11" fill="#000"/>
<rect x="667" y="201" width="5" height="3" fill="#000"/>
<rect x="677" y="196" width="1" height="17" fill="#000"/>
<rect x="675" y="203" width="5" height="6" fill="#000"/>
<rect x="685" y="206" width="1" height="19" fill="#000"/>
<rect x="683" y="209" width="5" height="1" fill="#000"/>
<rect x="693" y="192" width="1" height="23" fill="#000"/>
<rect x="691" y="194" width="5" height="16" fill="#000"/>
<rect x="692" y="195" width="3" height="14" fill="#fff"/>
<rect x="701" y="193" width="1" height="46" fill="#000"/>
<rect x="699" y="194" width="5" height="45" fill="#000"/>
<rect x="709" y="233" width="1" height="42" fill="#000"/>
<rect x="707" y="238" width="5" height="37" fill="#000"/>
<rect x="717" y="266" width="1" height="12" fill="#000"/>
<rect x="715" y="269" width="5" height="7" fill="#000"/>
<rect x="716" y="270" width="3" height="5" fill="#fff"/>
<rect x="725" y="260" width="1" height="13" fill="#000"/>
<rect x="723" y="261" width="5" height="10" fill="#000"/>
<rect x="724" y="262" width="3" height="8" fill="#fff"/>
<rect x="733" y="247" width="1" height="16" fill="#000"/>
<rect x="731" y="252" width="5" height="9" fill="#000"/>
<rect x="732" y="253" width="3" height="7" fill="#fff"/>
<rect x="741" y="245" width="1" height="22" fill="#000"/>
<rect x="739" y="251" width="5" height="2" fill="#000"/>
<rect x="749" y="251" width="1" height="16" fill="#000"/>
<rect x="747" y="253" width="5" height="5" fill="#000"/>
<rect x="757" y="252" width="1" height="32" fill="#000"/>
<rect x="755" y="259" width="5" height="11" fill="#000"/>
<rect x="765" y="255" width="1" height="19" fill="#000"/>
<rect x="763" y="259" width="5" height="11" fill="#000"/>
<rect x="764" y="260" width="3" height="9" fill="#fff"/>
<rect x="773" y="255" width="1" height="8" fill="#000"/>
<rect x="771" y="260" width="5" height="2" fill="#000"/>
<rect x="781" y="240" width="1" height="22" fill="#000"/>
<rect x="779" y="244" width="5" height="18" fill="#000"/>
<rect x="780" y="245" width="3" height="16" fill="#fff"/>
<rect x="789" y="243" width="1" height="23" fill="#000"/>
<rect x="787" y="243" width="5" height="21" fill="#000"/>
<rect x="797" y="247" width="1" height="24" fill="#000"/>
<rect x="795" y="259" width="5" height="6" fill="#000"/>
<rect x="796" y="260" width="3" height="4" fill="#fff"/>
<rect x="805" y="243" width="1" height="27" fill="#000"/>
<rect x="803" y="251" width="5" height="9" fill="#000"/>
<rect x="804" y="252" width="3" height="7" fill="#fff"/>
<rect x="813" y="226" width="1" height="48" fill="#000"/>
<rect x="811" y="250" width="5" height="22" fill="#000"/>
<rect x="821" y="265" width="1" height="16" fill="#000"/>
<rect x="819" y="271" width="5" height="5" fill="#000"/>
<rect x="829" y="275" width="1" height="22" fill="#000"/>
<rect x="827" y="275" width="5" height="11" fill="#000"/>
<rect x="837" y="274" width="1" height="13" fill="#000"/>
<rect x="835" y="279" width="5" height="7" fill="#000"/>
<rect x="836" y="280" width="3" height="5" fill="#fff"/>
<rect x="845" y="261" width="1" height="57" fill="#000"/>
<rect x="843" y="278" width="5" height="2" fill="#000"/>
<rect x="853" y="241" width="1" height="42" fill="#000"/>
<rect x="851" y="258" width="5" height="21" fill="#000"/>
<rect x="852" y="259" width="3" height="19" fill="#fff"/>
<rect x="861" y="258" width="1" height="28" fill="#000"/>
<rect x="859" y="259" width="5" height="1" fill="#000"/>
<rect x="869" y="246" width="1" height="16" fill="#000"/>
<rect x="867" y="254" width="5" height="6" fill="#000"/>
<rect x="868" y="255" width="3" height="4" fill="#fff"/>
<rect x="877" y="252" width="1" height="9" fill="#000"/>
<rect x="875" y="256" width="5" height="1" fill="#000"/>
<rect x="885" y="242" width="1" height="20" fill="#000"/>
<rect x="883" y="249" width="5" height="8" fill="#000"/>
<rect x="884" y="250" width="3" height="6" fill="#fff"/>
<rect x="893" y="242" width="1" height="21" fill="#000"/>
<rect x="891" y="242" width="5" height="7" fill="#000"/>
<rect x="892" y="243" width="3" height="5" fill="#fff"/>
<rect x="901" y="236" width="1" height="57" fill="#000"/>
<rect x="899" y="242" width="5" height="27" fill="#000"/>
<rect x="909" y="260" width="1" height="36" fill="#000"/>
<rect x="907" y="267" width="5" height="3" fill="#000"/>
<rect x="917" y="254" width="1" height="22" fill="#000"/>
<rect x="915" y="269" width="5" height="3" fill="#000"/>
<rect x="925" y="261" width="1" height="14" fill="#000"/>
<rect x="923" y="267" width="5" height="6" fill="#000"/>
<rect x="924" y="268" width="3" height="4" fill="#fff"/>
<rect x="933" y="254" width="1" height="17" fill="#000"/>
<rect x="931" y="266" width="5" height="3" fill="#000"/>
<rect x="941" y="258" width="1" height="12" fill="#000"/>
<rect x="939" y="267" width="5" height="1" fill="#000"/>
<rect x="949" y="208" width="1" height="74" fill="#000"/>
<rect x="947" y="211" width="5" height="57" fill="#000"/>
<rect x="948" y="212" width="3" height="55" fill="#fff"/>
<rect x="957" y="209" width="1" height="25" fill="#000"/>
<rect x="955" y="210" width="5" height="18" fill="#000"/>
<rect x="965" y="223" width="1" height="7" fill="#000"/>
<rect x="963" y="227" width="5" height="2" fill="#000"/>
<rect x="973" y="212" width="1" height="5" fill="#000"/>
<rect x="971" y="215" width="5" height="1" fill="#000"/>
<rect x="981" y="209" width="1" height="9" fill="#000"/>
<rect x="979" y="211" width="5" height="5" fill="#000"/>
<rect x="980" y="212" width="3" height="3" fill="#fff"/>
<rect x="989" y="205" width="1" height="11" fill="#000"/>
<rect x="987" y="209" width="5" height="4" fill="#000"/>
<rect x="988" y="210" width="3" height="2" fill="#fff"/>
<rect x="997" y="198" width="1" height="16" fill="#000"/>
<rect x="995" y="199" width="5" height="11" fill="#000"/>
<rect x="996" y="200" width="3" height="9" fill="#fff"/>
<rect x="1005" y="164" width="1" height="39" fill="#000"/>
<rect x="1003" y="195" width="5" height="5" fill="#000"/>
<rect x="1004" y="196" width="3" height="3" fill="#fff"/>
<rect x="1013" y="181" width="1" height="25" fill="#000"/>
<rect x="1011" y="189" width="5" height="6" fill="#000"/>
<rect x="1012" y="190" width="3" height="4" fill="#fff"/>
<rect x="1021" y="180" width="1" height="10" fill="#000"/>
<rect x="1019" y="182" width="5" height="7" fill="#000"/>
<rect x="1020" y="183" width="3" height="5" fill="#fff"/>
<rect x="1029" y="177" width="1" height="10" fill="#000"/>
<rect x="1027" y="182" width="5" height="3" fill="#000"/>
<rect x="1037" y="182" width="1" height="6" fill="#000"/>
<rect x="1035" y="185" width="5" height="1" fill="#000"/>
<rect x="1045" y="184" width="1" height="21" fill="#000"/>
<rect x="1043" y="185" width="5" height="14" fill="#000"/>
<rect x="1053" y="167" width="1" height="42" fill="#000"/>
<rect x="1051" y="196" width="5" height="3" fill="#000"/>
<rect x="1052" y="197" width="3" height="1" fill="#fff"/>
<rect x="1061" y="177" width="1" height="27" fill="#000"/>
<rect x="1059" y="186" width="5" height="10" fill="#000"/>
<rect x="1060" y="187" width="3" height="8" fill="#fff"/>
<rect x="1069" y="179" width="1" height="11" fill="#000"/>
<rect x="1067" y="186" width="5" height="1" fill="#000"/>
<rect x="1077" y="184" width="1" height="12" fill="#000"/>
<rect x="1075" y="185" width="5" height="9" fill="#000"/>
<rect x="1085" y="190" width="1" height="7" fill="#000"/>
<rect x="1083" y="189" width="5" height="5" fill="#000"/>
<rect x="1084" y="190" width="3" height="3" fill="#fff"/>
<rect x="1093" y="185" width="1" height="10" fill="#000"/>
<rect x="1091" y="187" width="5" height="3" fill="#000"/>
<rect x="1092" y="188" width="3" height="1" fill="#fff"/>
<rect x="1101" y="182" width="1" height="34" fill="#000"/>
<rect x="1099" y="187" width="5" height="15" fill="#000"/>
<rect x="1109" y="156" width="1" height="52" fill="#000"/>
<rect x="1107" y="162" width="5" height="41" fill="#000"/>
<rect x="1108" y="163" width="3" height="39" fill="#fff"/>
<rect x="1117" y="136" width="1" height="28" fill="#000"/>
<rect x="1115" y="155" width="5" height="8" fill="#000"/>
<rect x="1116" y="156" width="3" height="6" fill="#fff"/>
<rect x="1125" y="149" width="1" height="14" fill="#000"/>
<rect x="1123" y="154" width="5" height="2" fill="#000"/>
<rect x="1133" y="152" width="1" height="10" fill="#000"/>
<rect x="1131" y="153" width="5" height="2" fill="#000"/>
<rect x="1141" y="148" width="1" height="48" fill="#000"/>
<rect x="1139" y="153" width="5" height="31" fill="#000"/>
<rect x="1149" y="166" width="1" height="70" fill="#000"/>
<rect x="1147" y="183" width="5" height="30" fill="#000"/>
<rect x="1157" y="201" width="1" height="42" fill="#000"/>
<rect x="1155" y="204" width="5" height="10" fill="#000"/>
<rect x="1156" y="205" width="3" height="8" fill="#fff"/>
<rect x="1165" y="198" width="1" height="13" fill="#000"/>
<rect x="1163" y="204" width="5" height="4" fill="#000"/>
<rect x="1173" y="186" width="1" height="22" fill="#000"/>
<rect x="1171" y="188" width="5" height="18" fill="#000"/>
<rect x="1172" y="189" width="3" height="16" fill="#fff"/>
<rect x="1181" y="182" width="1" height="14" fill="#000"/>
<rect x="1179" y="188" width="5" height="3" fill="#000"/>
<rect x="1189" y="185" width="1" height="13" fill="#000"/>
<rect x="1187" y="191" width="5" height="6" fill="#000"/>
<rect x="1197" y="126" width="1" height="73" fill="#000"/>
<rect x="1195" y="129" width="5" height="67" fill="#000"/>
<rect x="1196" y="130" width="3" height="65" fill="#fff"/>
<rect x="1205" y="120" width="1" height="22" fill="#000"/>
<rect x="1203" y="120" width="5" height="10" fill="#000"/>
<rect x="1204" y="121" width="3" height="8" fill="#fff"/>
<rect x="1213" y="119" width="1" height="8" fill="#000"/>
<rect x="1211" y="120" width="5" height="5" fill="#000"/>
<rect x="1221" y="107" width="1" height="12" fill="#000"/>
<rect x="1219" y="112" width="5" height="6" fill="#000"/>
<rect x="1220" y="113" width="3" height="4" fill="#fff"/>
<rect x="1229" y="101" width="1" height="15" fill="#000"/>
<rect x="1227" y="105" width="5" height="8" fill="#000"/>
<rect x="1228" y="106" width="3" height="6" fill="#fff"/>
<rect x="1237" y="103" width="1" height="9" fill="#000"/>
<rect x="1235" y="104" width="5" height="2" fill="#000"/>
<rect x="1245" y="83" width="1" height="27" fill="#000"/>
<rect x="1243" y="90" width="5" height="15" fill="#000"/>
<rect x="1244" y="91" width="3" height="13" fill="#fff"/>
<rect x="1253" y="70" width="1" height="22" fill="#000"/>
<rect x="1251" y="79" width="5" height="13" fill="#000"/>
<rect x="1252" y="80" width="3" height="11" fill="#fff"/>
<rect x="1261" y="74" width="1" height="18" fill="#000"/>
<rect x="1259" y="79" width="5" height="13" fill="#000"/>
<rect x="1269" y="65" width="1" height="37" fill="#000"/>
<rect x="1267" y="71" width="5" height="21" fill="#000"/>
<rect x="1268" y="72" width="3" height="19" fill="#fff"/>
<rect x="1277" y="70" width="1" height="22" fill="#000"/>
<rect x="1275" y="69" width="5" height="4" fill="#000"/>
<rect x="1276" y="70" width="3" height="2" fill="#fff"/>
<rect x="1285" y="68" width="1" height="13" fill="#000"/>
<rect x="1283" y="69" width="5" height="5" fill="#000"/>
<rect x="1293" y="64" width="1" height="15" fill="#000"/>
<rect x="1291" y="71" width="5" height="2" fill="#000"/>
<rect x="1301" y="57" width="1" height="33" fill="#000"/>
<rect x="1299" y="71" width="5" height="11" fill="#000"/>
<rect x="1309" y="59" width="1" height="26" fill="#000"/>
<rect x="1307" y="61" width="5" height="20" fill="#000"/>
<rect x="1308" y="62" width="3" height="18" fill="#fff"/>
<rect x="1317" y="60" width="1" height="22" fill="#000"/>
<rect x="1315" y="62" width="5" height="18" fill="#000"/>
<rect x="1325" y="79" width="1" height="1" fill="#000"/>
<rect x="1323" y="79" width="5" height="1" fill="#000"/>
</g>
<g shape-rendering="crispEdges">
<rect x="1241" y="86" width="85" height="10" fill="#00ff00"/>
<rect x="1446" y="91" width="8" height="1" fill="#ff0000"/>
<rect x="1453" y="89" width="4" height="5" fill="#ff0000"/>
<rect x="1454" y="90" width="2" height="3" fill="#fff"/>
<rect x="1456" y="75" width="100" height="33" fill="#ff0000"/>
<rect x="1457" y="76" width="98" height="31" fill="#fff"/>
</g>
<text x="1458" y="102" font-size="28.6" fill="#ff0000" textLength="95.2" lengthAdjust="spacingAndGlyphs">27371.1</text>
<g>
<text x="1387.8" y="169.9" font-size="31" font-weight="bold" fill="#0a3a0a" textLength="160.5" lengthAdjust="spacingAndGlyphs" style="font-family:'Liberation Serif','Noto Serif CJK SC',serif">多空转折点</text>
<text x="1386.8" y="169.2" font-size="31" font-weight="bold" fill="#00f000" textLength="160.5" lengthAdjust="spacingAndGlyphs" style="font-family:'Liberation Serif','Noto Serif CJK SC',serif">多空转折点</text>
</g>
<g shape-rendering="crispEdges">
<rect x="0" y="30" width="1626" height="1" fill="#000"/>
<rect x="1625" y="30" width="1" height="901" fill="#000"/>
<rect x="0" y="583" width="1626" height="1" fill="#000"/>
<rect x="0" y="585" width="1626" height="1" fill="#000"/>
<rect x="0" y="768" width="1626" height="1" fill="#000"/>
<rect x="0" y="770" width="1626" height="1" fill="#000"/>
<rect x="0" y="930" width="1626" height="1" fill="#000"/>
<rect x="1625" y="584" width="1" height="1" fill="#fff"/>
<rect x="1625" y="769" width="1" height="1" fill="#fff"/>
<rect x="1626" y="587" width="1" height="1" fill="#000"/>
<rect x="1626" y="654" width="2" height="1" fill="#000"/>
<rect x="1626" y="766" width="1" height="1" fill="#000"/>
<rect x="1626" y="772" width="1" height="1" fill="#000"/>
<rect x="1626" y="803" width="2" height="1" fill="#000"/>
<rect x="1626" y="850" width="2" height="1" fill="#000"/>
<rect x="1626" y="906" width="2" height="1" fill="#000"/>
<rect x="1626" y="929" width="1" height="1" fill="#000"/>
</g>
<g shape-rendering="crispEdges">
<rect x="1627" y="36" width="41" height="11" fill="#ff0000"/>
</g>
<text x="1631.3" y="45.3" font-size="9.6" fill="#fff" stroke="#fff" stroke-width="0.22" textLength="33" lengthAdjust="spacingAndGlyphs">27541.7</text>
<g shape-rendering="crispEdges">
<rect x="1619" y="39" width="6" height="6" fill="#ff0000"/>
<rect x="1621" y="41" width="2" height="2" fill="#fff"/>
</g>
<g shape-rendering="crispEdges">
<rect x="1627" y="52" width="41" height="11" fill="#ff0000"/>
</g>
<text x="1631.3" y="61.3" font-size="9.6" fill="#fff" stroke="#fff" stroke-width="0.22" textLength="33" lengthAdjust="spacingAndGlyphs">27486.0</text>
<g shape-rendering="crispEdges">
<rect x="1619" y="55" width="6" height="6" fill="#ff0000"/>
<rect x="1621" y="57" width="2" height="2" fill="#fff"/>
</g>
<g shape-rendering="crispEdges">
<rect x="1627" y="74" width="41" height="11" fill="#000"/>
</g>
<text x="1631.3" y="82.8" font-size="9.6" fill="#fff" stroke="#fff" stroke-width="0.22" textLength="33" lengthAdjust="spacingAndGlyphs">27416.0</text>
<g shape-rendering="crispEdges">
<rect x="1627" y="85" width="41" height="11" fill="#32cd32"/>
</g>
<text x="1631.3" y="94.3" font-size="9.6" fill="#fff" stroke="#fff" stroke-width="0.22" textLength="33" lengthAdjust="spacingAndGlyphs">27371.1</text>
<g shape-rendering="crispEdges">
<rect x="1619" y="88" width="6" height="6" fill="#32cd32"/>
<rect x="1621" y="90" width="2" height="2" fill="#fff"/>
</g>
<g shape-rendering="crispEdges">
<rect x="1627" y="102" width="41" height="11" fill="#0000ff"/>
</g>
<text x="1631.3" y="111.3" font-size="9.6" fill="#fff" stroke="#fff" stroke-width="0.22" textLength="33" lengthAdjust="spacingAndGlyphs">27311.9</text>
<g shape-rendering="crispEdges">
<rect x="1619" y="105" width="6" height="6" fill="#0000ff"/>
<rect x="1621" y="107" width="2" height="2" fill="#fff"/>
</g>
<g shape-rendering="crispEdges">
<rect x="1627" y="120" width="41" height="11" fill="#0000ff"/>
</g>
<text x="1631.3" y="129.3" font-size="9.6" fill="#fff" stroke="#fff" stroke-width="0.22" textLength="33" lengthAdjust="spacingAndGlyphs">27249.2</text>
<g shape-rendering="crispEdges">
<rect x="1619" y="123" width="6" height="6" fill="#0000ff"/>
<rect x="1621" y="125" width="2" height="2" fill="#fff"/>
</g>
<g shape-rendering="crispEdges">
<rect x="0" y="39" width="2" height="6" fill="#ff0000"/>
<rect x="0" y="123" width="2" height="6" fill="#0000ff"/>
<rect x="3" y="37" width="1" height="1" fill="#000"/>
<rect x="2" y="38" width="3" height="1" fill="#000"/>
<rect x="1" y="39" width="5" height="1" fill="#000"/>
<rect x="0" y="40" width="7" height="1" fill="#000"/>
</g>
<text x="12.8" y="41.6" font-size="9.6" fill="#000" stroke="#000" stroke-width="0.22" textLength="185.5" lengthAdjust="spacingAndGlyphs" xml:space="preserve">DJ30-,H4  27416.0 27416.0 27416.0 27416.0</text>
<g shape-rendering="crispEdges">
<rect x="5" y="654" width="1" height="12" fill="#c0c0c0"/>
<rect x="13" y="654" width="1" height="9" fill="#c0c0c0"/>
<rect x="21" y="654" width="1" height="8" fill="#c0c0c0"/>
<rect x="29" y="654" width="1" height="5" fill="#c0c0c0"/>
<rect x="37" y="654" width="1" height="1" fill="#c0c0c0"/>
<rect x="45" y="653" width="1" height="2" fill="#c0c0c0"/>
<rect x="53" y="652" width="1" height="3" fill="#c0c0c0"/>
<rect x="61" y="654" width="1" height="5" fill="#c0c0c0"/>
<rect x="69" y="654" width="1" height="19" fill="#c0c0c0"/>
<rect x="77" y="654" width="1" height="26" fill="#c0c0c0"/>
<rect x="85" y="654" width="1" height="31" fill="#c0c0c0"/>
<rect x="93" y="654" width="1" height="40" fill="#c0c0c0"/>
<rect x="101" y="654" width="1" height="48" fill="#c0c0c0"/>
<rect x="109" y="654" width="1" height="66" fill="#c0c0c0"/>
<rect x="117" y="654" width="1" height="79" fill="#c0c0c0"/>
<rect x="125" y="654" width="1" height="89" fill="#c0c0c0"/>
<rect x="133" y="654" width="1" height="95" fill="#c0c0c0"/>
<rect x="141" y="654" width="1" height="98" fill="#c0c0c0"/>
<rect x="149" y="654" width="1" height="103" fill="#c0c0c0"/>
<rect x="157" y="654" width="1" height="105" fill="#c0c0c0"/>
<rect x="165" y="654" width="1" height="99" fill="#c0c0c0"/>
<rect x="173" y="654" width="1" height="94" fill="#c0c0c0"/>
<rect x="181" y="654" width="1" height="89" fill="#c0c0c0"/>
<rect x="189" y="654" width="1" height="85" fill="#c0c0c0"/>
<rect x="197" y="654" width="1" height="81" fill="#c0c0c0"/>
<rect x="205" y="654" width="1" height="68" fill="#c0c0c0"/>
<rect x="213" y="654" width="1" height="52" fill="#c0c0c0"/>
<rect x="221" y="654" width="1" height="39" fill="#c0c0c0"/>
<rect x="229" y="654" width="1" height="32" fill="#c0c0c0"/>
<rect x="237" y="654" width="1" height="26" fill="#c0c0c0"/>
<rect x="245" y="654" width="1" height="21" fill="#c0c0c0"/>
<rect x="253" y="654" width="1" height="15" fill="#c0c0c0"/>
<rect x="261" y="654" width="1" height="8" fill="#c0c0c0"/>
<rect x="269" y="654" width="1" height="6" fill="#c0c0c0"/>
<rect x="277" y="654" width="1" height="4" fill="#c0c0c0"/>
<rect x="285" y="654" width="1" height="1" fill="#c0c0c0"/>
<rect x="293" y="654" width="1" height="1" fill="#c0c0c0"/>
<rect x="301" y="654" width="1" height="6" fill="#c0c0c0"/>
<rect x="309" y="654" width="1" height="14" fill="#c0c0c0"/>
<rect x="317" y="654" width="1" height="22" fill="#c0c0c0"/>
<rect x="325" y="654" width="1" height="27" fill="#c0c0c0"/>
<rect x="333" y="654" width="1" height="28" fill="#c0c0c0"/>
<rect x="341" y="654" width="1" height="29" fill="#c0c0c0"/>
<rect x="349" y="654" width="1" height="24" fill="#c0c0c0"/>
<rect x="357" y="654" width="1" height="20" fill="#c0c0c0"/>
<rect x="365" y="654" width="1" height="19" fill="#c0c0c0"/>
<rect x="373" y="654" width="1" height="23" fill="#c0c0c0"/>
<rect x="381" y="654" width="1" height="21" fill="#c0c0c0"/>
<rect x="389" y="654" width="1" height="21" fill="#c0c0c0"/>
<rect x="397" y="654" width="1" height="20" fill="#c0c0c0"/>
<rect x="405" y="654" width="1" height="9" fill="#c0c0c0"/>
<rect x="413" y="654" width="1" height="3" fill="#c0c0c0"/>
<rect x="421" y="650" width="1" height="5" fill="#c0c0c0"/>
<rect x="429" y="643" width="1" height="12" fill="#c0c0c0"/>
<rect x="437" y="636" width="1" height="19" fill="#c0c0c0"/>
<rect x="445" y="626" width="1" height="29" fill="#c0c0c0"/>
<rect x="453" y="614" width="1" height="41" fill="#c0c0c0"/>
<rect x="461" y="609" width="1" height="46" fill="#c0c0c0"/>
<rect x="469" y="605" width="1" height="50" fill="#c0c0c0"/>
<rect x="477" y="599" width="1" height="56" fill="#c0c0c0"/>
<rect x="485" y="596" width="1" height="59" fill="#c0c0c0"/>
<rect x="493" y="598" width="1" height="57" fill="#c0c0c0"/>
<rect x="501" y="601" width="1" height="54" fill="#c0c0c0"/>
<rect x="509" y="601" width="1" height="54" fill="#c0c0c0"/>
<rect x="517" y="604" width="1" height="51" fill="#c0c0c0"/>
<rect x="525" y="604" width="1" height="51" fill="#c0c0c0"/>
<rect x="533" y="606" width="1" height="49" fill="#c0c0c0"/>
<rect x="541" y="605" width="1" height="50" fill="#c0c0c0"/>
<rect x="549" y="607" width="1" height="48" fill="#c0c0c0"/>
<rect x="557" y="602" width="1" height="53" fill="#c0c0c0"/>
<rect x="565" y="600" width="1" height="55" fill="#c0c0c0"/>
<rect x="573" y="599" width="1" height="56" fill="#c0c0c0"/>
<rect x="581" y="600" width="1" height="55" fill="#c0c0c0"/>
<rect x="589" y="602" width="1" height="53" fill="#c0c0c0"/>
<rect x="597" y="603" width="1" height="52" fill="#c0c0c0"/>
<rect x="605" y="603" width="1" height="52" fill="#c0c0c0"/>
<rect x="613" y="605" width="1" height="50" fill="#c0c0c0"/>
<rect x="621" y="610" width="1" height="45" fill="#c0c0c0"/>
<rect x="629" y="613" width="1" height="42" fill="#c0c0c0"/>
<rect x="637" y="615" width="1" height="40" fill="#c0c0c0"/>
<rect x="645" y="614" width="1" height="41" fill="#c0c0c0"/>
<rect x="653" y="617" width="1" height="38" fill="#c0c0c0"/>
<rect x="661" y="618" width="1" height="37" fill="#c0c0c0"/>
<rect x="669" y="619" width="1" height="36" fill="#c0c0c0"/>
<rect x="677" y="621" width="1" height="34" fill="#c0c0c0"/>
<rect x="685" y="623" width="1" height="32" fill="#c0c0c0"/>
<rect x="693" y="623" width="1" height="32" fill="#c0c0c0"/>
<rect x="701" y="629" width="1" height="26" fill="#c0c0c0"/>
<rect x="709" y="639" width="1" height="16" fill="#c0c0c0"/>
<rect x="717" y="646" width="1" height="9" fill="#c0c0c0"/>
<rect x="725" y="650" width="1" height="5" fill="#c0c0c0"/>
<rect x="733" y="653" width="1" height="2" fill="#c0c0c0"/>
<rect x="741" y="654" width="1" height="1" fill="#c0c0c0"/>
<rect x="749" y="654" width="1" height="1" fill="#c0c0c0"/>
<rect x="757" y="654" width="1" height="5" fill="#c0c0c0"/>
<rect x="765" y="654" width="1" height="6" fill="#c0c0c0"/>
<rect x="773" y="654" width="1" height="7" fill="#c0c0c0"/>
<rect x="781" y="654" width="1" height="6" fill="#c0c0c0"/>
<rect x="789" y="654" width="1" height="7" fill="#c0c0c0"/>
<rect x="797" y="654" width="1" height="8" fill="#c0c0c0"/>
<rect x="805" y="654" width="1" height="6" fill="#c0c0c0"/>
<rect x="813" y="654" width="1" height="9" fill="#c0c0c0"/>
<rect x="821" y="654" width="1" height="10" fill="#c0c0c0"/>
<rect x="829" y="654" width="1" height="13" fill="#c0c0c0"/>
<rect x="837" y="654" width="1" height="14" fill="#c0c0c0"/>
<rect x="845" y="654" width="1" height="15" fill="#c0c0c0"/>
<rect x="853" y="654" width="1" height="11" fill="#c0c0c0"/>
<rect x="861" y="654" width="1" height="12" fill="#c0c0c0"/>
<rect x="869" y="654" width="1" height="9" fill="#c0c0c0"/>
<rect x="877" y="654" width="1" height="7" fill="#c0c0c0"/>
<rect x="885" y="654" width="1" height="5" fill="#c0c0c0"/>
<rect x="893" y="654" width="1" height="3" fill="#c0c0c0"/>
<rect x="901" y="654" width="1" height="4" fill="#c0c0c0"/>
<rect x="909" y="654" width="1" height="5" fill="#c0c0c0"/>
<rect x="917" y="654" width="1" height="6" fill="#c0c0c0"/>
<rect x="925" y="654" width="1" height="6" fill="#c0c0c0"/>
<rect x="933" y="654" width="1" height="6" fill="#c0c0c0"/>
<rect x="941" y="654" width="1" height="6" fill="#c0c0c0"/>
<rect x="949" y="654" width="1" height="1" fill="#c0c0c0"/>
<rect x="957" y="651" width="1" height="4" fill="#c0c0c0"/>
<rect x="965" y="648" width="1" height="7" fill="#c0c0c0"/>
<rect x="973" y="645" width="1" height="10" fill="#c0c0c0"/>
<rect x="981" y="642" width="1" height="13" fill="#c0c0c0"/>
<rect x="989" y="639" width="1" height="16" fill="#c0c0c0"/>
<rect x="997" y="636" width="1" height="19" fill="#c0c0c0"/>
<rect x="1005" y="634" width="1" height="21" fill="#c0c0c0"/>
<rect x="1013" y="631" width="1" height="24" fill="#c0c0c0"/>
<rect x="1021" y="629" width="1" height="26" fill="#c0c0c0"/>
<rect x="1029" y="627" width="1" height="28" fill="#c0c0c0"/>
<rect x="1037" y="626" width="1" height="29" fill="#c0c0c0"/>
<rect x="1045" y="628" width="1" height="27" fill="#c0c0c0"/>
<rect x="1053" y="630" width="1" height="25" fill="#c0c0c0"/>
<rect x="1061" y="629" width="1" height="26" fill="#c0c0c0"/>
<rect x="1069" y="629" width="1" height="26" fill="#c0c0c0"/>
<rect x="1077" y="631" width="1" height="24" fill="#c0c0c0"/>
<rect x="1085" y="632" width="1" height="23" fill="#c0c0c0"/>
<rect x="1093" y="632" width="1" height="23" fill="#c0c0c0"/>
<rect x="1101" y="635" width="1" height="20" fill="#c0c0c0"/>
<rect x="1109" y="632" width="1" height="23" fill="#c0c0c0"/>
<rect x="1117" y="630" width="1" height="25" fill="#c0c0c0"/>
<rect x="1125" y="628" width="1" height="27" fill="#c0c0c0"/>
<rect x="1133" y="627" width="1" height="28" fill="#c0c0c0"/>
<rect x="1141" y="631" width="1" height="24" fill="#c0c0c0"/>
<rect x="1149" y="636" width="1" height="19" fill="#c0c0c0"/>
<rect x="1157" y="640" width="1" height="15" fill="#c0c0c0"/>
<rect x="1165" y="643" width="1" height="12" fill="#c0c0c0"/>
<rect x="1173" y="644" width="1" height="11" fill="#c0c0c0"/>
<rect x="1181" y="645" width="1" height="10" fill="#c0c0c0"/>
<rect x="1189" y="647" width="1" height="8" fill="#c0c0c0"/>
<rect x="1197" y="640" width="1" height="15" fill="#c0c0c0"/>
<rect x="1205" y="634" width="1" height="21" fill="#c0c0c0"/>
<rect x="1213" y="630" width="1" height="25" fill="#c0c0c0"/>
<rect x="1221" y="625" width="1" height="30" fill="#c0c0c0"/>
<rect x="1229" y="621" width="1" height="34" fill="#c0c0c0"/>
<rect x="1237" y="618" width="1" height="37" fill="#c0c0c0"/>
<rect x="1245" y="615" width="1" height="40" fill="#c0c0c0"/>
<rect x="1253" y="611" width="1" height="44" fill="#c0c0c0"/>
<rect x="1261" y="610" width="1" height="45" fill="#c0c0c0"/>
<rect x="1269" y="608" width="1" height="47" fill="#c0c0c0"/>
<rect x="1277" y="606" width="1" height="49" fill="#c0c0c0"/>
<rect x="1285" y="606" width="1" height="49" fill="#c0c0c0"/>
<rect x="1293" y="606" width="1" height="49" fill="#c0c0c0"/>
<rect x="1301" y="608" width="1" height="47" fill="#c0c0c0"/>
<rect x="1309" y="607" width="1" height="48" fill="#c0c0c0"/>
<rect x="1317" y="610" width="1" height="45" fill="#c0c0c0"/>
<rect x="1325" y="612" width="1" height="43" fill="#c0c0c0"/>
<path fill="none" stroke="#ff0000" stroke-width="1" d="M533,600.5h3M539,600.5h3M545,600.5h1M528,601.5h2M546,601.5h2M551,601.5h3M522,602.5h2M527,602.5h1M557,602.5h3M563,602.5h3M569,602.5h3M575,602.5h3M581,602.5h3M587,602.5h3M593,602.5h3M599,602.5h3M605,602.5h3M611,602.5h3M617,602.5h3M623,602.5h1M515,603.5h3M521,603.5h1M624,603.5h2M509,604.5h3M629,604.5h3M635,605.5h3M641,605.5h1M642,606.5h2M647,606.5h1M504,607.5h2M648,607.5h2M503,608.5h1M653,608.5h3M1307,608.5h3M1313,608.5h3M1319,608.5h3M1325,608.5h1M1301,609.5h3M499,610.5h1M659,610.5h3M1295,610.5h3M497,611.5h2M665,611.5h2M1289,611.5h3M667,612.5h1M671,612.5h1M493,613.5h1M672,613.5h2M1284,613.5h2M492,614.5h1M677,614.5h3M1283,614.5h1M491,615.5h1M1279,615.5h1M683,616.5h3M1277,616.5h2M487,617.5h1M689,617.5h2M1273,617.5h1M486,618.5h1M691,618.5h1M695,618.5h3M1271,618.5h2M485,619.5h1M701,619.5h2M703,620.5h1M1265,620.5h3M707,621.5h1M481,622.5h1M708,622.5h2M1261,622.5h1M480,623.5h1M1259,623.5h2M479,624.5h1M713,624.5h2M715,625.5h1M1254,626.5h2M719,627.5h2M1253,627.5h1M475,628.5h1M721,628.5h1M1067,628.5h3M1073,628.5h3M1079,628.5h3M1085,628.5h3M1091,628.5h3M1097,628.5h1M1249,628.5h1M473,629.5h2M725,629.5h2M1098,629.5h2M1103,629.5h3M1247,629.5h2M727,630.5h1M1051,630.5h1M1055,630.5h3M1061,630.5h3M1109,630.5h3M1115,630.5h3M1121,630.5h3M1127,630.5h3M1133,630.5h3M1139,630.5h3M1145,630.5h3M1151,630.5h3M1049,631.5h2M1157,631.5h3M1241,631.5h3M731,632.5h1M1043,632.5h3M1163,632.5h3M469,633.5h1M732,633.5h2M1169,633.5h2M1236,633.5h2M468,634.5h1M1037,634.5h3M1171,634.5h1M1175,634.5h3M1235,634.5h1M467,635.5h1M737,635.5h2M1032,635.5h2M1181,635.5h3M1231,635.5h1M739,636.5h1M1031,636.5h1M1229,636.5h2M1025,637.5h3M1187,637.5h3M1193,637.5h1M1224,637.5h2M743,638.5h1M1194,638.5h2M1199,638.5h3M1218,638.5h2M1223,638.5h1M464,639.5h1M744,639.5h2M1020,639.5h2M1205,639.5h3M1211,639.5h3M1217,639.5h1M463,640.5h1M1019,640.5h1M462,641.5h1M749,641.5h2M1015,641.5h1M751,642.5h1M1013,642.5h2M1009,643.5h1M458,644.5h1M755,644.5h1M1007,644.5h2M457,645.5h1M756,645.5h2M456,646.5h1M1003,646.5h1M761,647.5h2M1001,647.5h2M763,648.5h1M452,649.5h1M995,649.5h3M451,650.5h1M767,650.5h1M450,651.5h1M768,651.5h2M989,651.5h3M984,652.5h2M773,653.5h3M979,653.5h1M983,653.5h1M446,654.5h1M977,654.5h2M445,655.5h1M779,655.5h3M971,655.5h3M444,656.5h1M785,656.5h2M965,656.5h3M787,657.5h1M791,657.5h1M960,657.5h2M792,658.5h2M954,658.5h2M959,658.5h1M58,659.5h2M63,659.5h3M439,659.5h2M797,659.5h3M803,659.5h3M809,659.5h1M947,659.5h3M953,659.5h1M52,660.5h2M57,660.5h1M69,660.5h2M438,660.5h1M810,660.5h2M815,660.5h3M930,660.5h2M935,660.5h3M941,660.5h3M51,661.5h1M71,661.5h1M821,661.5h3M923,661.5h3M929,661.5h1M47,662.5h1M75,662.5h1M308,662.5h1M312,662.5h3M318,662.5h2M827,662.5h3M906,662.5h2M911,662.5h3M917,662.5h3M45,663.5h2M76,663.5h2M81,663.5h1M306,663.5h2M320,663.5h1M434,663.5h1M833,663.5h2M899,663.5h3M905,663.5h1M34,664.5h2M39,664.5h3M82,664.5h2M324,664.5h3M432,664.5h2M835,664.5h1M839,664.5h3M893,664.5h3M27,665.5h3M33,665.5h1M87,665.5h1M300,665.5h3M330,665.5h1M845,665.5h3M851,665.5h3M857,665.5h1M882,665.5h2M887,665.5h3M21,666.5h3M88,666.5h2M294,666.5h3M331,666.5h2M428,666.5h1M858,666.5h2M863,666.5h3M869,666.5h3M875,666.5h3M881,666.5h1M3,667.5h3M9,667.5h3M15,667.5h3M336,667.5h1M426,667.5h2M290,668.5h1M337,668.5h2M93,669.5h2M288,669.5h2M342,669.5h2M420,669.5h3M95,670.5h1M344,670.5h1M348,671.5h3M416,671.5h1M99,672.5h1M283,672.5h2M415,672.5h1M100,673.5h2M282,673.5h1M354,673.5h2M414,673.5h1M356,674.5h1M360,674.5h2M408,674.5h3M278,675.5h1M362,675.5h1M366,675.5h2M403,675.5h2M277,676.5h1M368,676.5h1M402,676.5h1M105,677.5h1M276,677.5h1M372,677.5h3M396,677.5h3M106,678.5h1M378,678.5h3M384,678.5h3M390,678.5h3M107,679.5h1M272,681.5h1M271,682.5h1M111,683.5h1M270,683.5h1M112,684.5h1M113,685.5h1M266,687.5h1M265,688.5h1M117,689.5h1M265,689.5h1M118,690.5h1M119,691.5h1M261,693.5h1M260,694.5h1M122,695.5h1M259,695.5h1M123,696.5h1M123,697.5h1M255,699.5h1M254,700.5h1M127,701.5h1M253,701.5h1M127,702.5h1M128,703.5h1M249,705.5h1M249,706.5h1M131,707.5h1M248,707.5h1M132,708.5h1M133,709.5h1M244,711.5h1M243,712.5h1M136,713.5h1M242,713.5h1M137,714.5h1M138,715.5h1M238,717.5h1M237,718.5h1M141,719.5h1M236,719.5h1M142,720.5h1M143,721.5h1M232,722.5h1M231,723.5h1M230,724.5h1M147,725.5h1M148,726.5h1M149,727.5h1M226,728.5h1M225,729.5h1M224,730.5h1M153,731.5h1M153,732.5h1M154,733.5h1M220,734.5h1M219,735.5h1M218,736.5h1M158,737.5h1M159,738.5h2M214,739.5h1M213,740.5h1M164,741.5h1M212,741.5h1M165,742.5h2M170,744.5h1M207,744.5h2M171,745.5h1M206,745.5h1M172,746.5h1M176,747.5h1M201,747.5h2M177,748.5h2M200,748.5h1M182,749.5h3M194,749.5h3M188,750.5h3"/>
</g>
<text x="1.6" y="598" font-size="9.6" fill="#000" stroke="#000" stroke-width="0.22" textLength="122.5" lengthAdjust="spacingAndGlyphs">MACD(12,26,9) 99.52 108.70</text>
<text x="1629.5" y="596.2" font-size="9.6" fill="#000" stroke="#000" stroke-width="0.22" textLength="28.5" lengthAdjust="spacingAndGlyphs">155.63</text>
<text x="1629.5" y="657.3" font-size="9.6" fill="#000" stroke="#000" stroke-width="0.22" textLength="19" lengthAdjust="spacingAndGlyphs">0.00</text>
<text x="1629.5" y="765" font-size="9.6" fill="#000" stroke="#000" stroke-width="0.22" textLength="30.2" lengthAdjust="spacingAndGlyphs">-259.63</text>
<g shape-rendering="crispEdges">
<line x1="0" y1="803.5" x2="1625" y2="803.5" stroke="#c0c0c0" stroke-width="1" stroke-dasharray="3,3"/>
<line x1="0" y1="850.5" x2="1625" y2="850.5" stroke="#c0c0c0" stroke-width="1" stroke-dasharray="3,3"/>
<line x1="0" y1="906.5" x2="1625" y2="906.5" stroke="#c0c0c0" stroke-width="1" stroke-dasharray="3,3"/>
<path fill="none" stroke="#1e90ff" stroke-width="1" d="M1252,811.5h2M1249,812.5h3M1254,812.5h1M1247,813.5h2M1255,813.5h1M1274,813.5h5M1244,814.5h3M1256,814.5h1M1269,814.5h5M1279,814.5h2M1243,815.5h1M1257,815.5h1M1267,815.5h2M1281,815.5h3M1290,815.5h4M1240,816.5h3M1258,816.5h1M1266,816.5h1M1284,816.5h6M1294,816.5h1M1239,817.5h1M1259,817.5h1M1264,817.5h2M1295,817.5h1M1309,817.5h1M1019,818.5h5M1227,818.5h12M1260,818.5h1M1262,818.5h2M1296,818.5h1M1308,818.5h1M1310,818.5h1M1016,819.5h3M1024,819.5h3M1130,819.5h4M1224,819.5h3M1261,819.5h1M1297,819.5h1M1306,819.5h2M1310,819.5h1M453,820.5h1M1012,820.5h4M1027,820.5h7M1115,820.5h15M1133,820.5h1M1220,820.5h4M1298,820.5h1M1305,820.5h1M1311,820.5h1M452,821.5h1M454,821.5h1M1009,821.5h3M1034,821.5h4M1112,821.5h3M1134,821.5h1M1204,821.5h3M1219,821.5h1M1299,821.5h1M1303,821.5h2M1312,821.5h1M450,822.5h2M455,822.5h1M1007,822.5h2M1038,822.5h1M1109,822.5h3M1134,822.5h1M1201,822.5h3M1207,822.5h2M1216,822.5h3M1300,822.5h1M1302,822.5h1M1312,822.5h1M449,823.5h1M456,823.5h1M1003,823.5h4M1038,823.5h1M1109,823.5h1M1134,823.5h1M1199,823.5h2M1209,823.5h3M1215,823.5h1M1301,823.5h1M1313,823.5h1M447,824.5h2M457,824.5h1M477,824.5h2M557,824.5h3M1000,824.5h3M1039,824.5h1M1108,824.5h1M1135,824.5h1M1197,824.5h2M1212,824.5h3M1314,824.5h1M446,825.5h1M457,825.5h1M475,825.5h2M479,825.5h1M556,825.5h1M560,825.5h3M996,825.5h4M1039,825.5h1M1108,825.5h1M1135,825.5h1M1197,825.5h1M1314,825.5h1M445,826.5h1M458,826.5h1M474,826.5h1M480,826.5h3M556,826.5h1M563,826.5h5M993,826.5h3M1040,826.5h1M1067,826.5h3M1107,826.5h1M1135,826.5h1M1196,826.5h1M1315,826.5h1M444,827.5h1M459,827.5h1M472,827.5h2M483,827.5h1M555,827.5h1M568,827.5h3M949,827.5h1M991,827.5h2M1041,827.5h1M1064,827.5h3M1070,827.5h1M1107,827.5h1M1136,827.5h1M1196,827.5h1M1316,827.5h1M443,828.5h1M460,828.5h1M470,828.5h2M484,828.5h2M554,828.5h1M571,828.5h3M604,828.5h3M949,828.5h2M986,828.5h5M1041,828.5h1M1060,828.5h4M1071,828.5h1M1107,828.5h1M1136,828.5h1M1196,828.5h1M1316,828.5h1M442,829.5h1M461,829.5h9M486,829.5h1M553,829.5h1M574,829.5h2M601,829.5h3M607,829.5h1M948,829.5h1M951,829.5h1M979,829.5h7M1042,829.5h1M1059,829.5h1M1072,829.5h1M1091,829.5h3M1106,829.5h1M1136,829.5h1M1195,829.5h1M1317,829.5h9M441,830.5h1M487,830.5h1M553,830.5h1M576,830.5h2M599,830.5h2M608,830.5h3M645,830.5h1M948,830.5h1M952,830.5h1M976,830.5h3M1043,830.5h1M1056,830.5h3M1073,830.5h1M1088,830.5h3M1094,830.5h1M1106,830.5h1M1137,830.5h1M1195,830.5h1M440,831.5h1M488,831.5h1M552,831.5h1M578,831.5h1M594,831.5h5M611,831.5h1M644,831.5h1M646,831.5h1M948,831.5h1M953,831.5h1M973,831.5h3M1043,831.5h1M1055,831.5h1M1074,831.5h1M1084,831.5h4M1094,831.5h1M1106,831.5h1M1137,831.5h1M1195,831.5h1M439,832.5h1M489,832.5h1M540,832.5h3M551,832.5h1M579,832.5h2M586,832.5h8M612,832.5h2M643,832.5h1M647,832.5h1M948,832.5h1M953,832.5h1M971,832.5h2M1044,832.5h1M1051,832.5h4M1075,832.5h1M1081,832.5h3M1095,832.5h1M1105,832.5h1M1137,832.5h1M1195,832.5h1M438,833.5h1M490,833.5h1M539,833.5h1M543,833.5h2M550,833.5h1M581,833.5h5M614,833.5h1M641,833.5h2M648,833.5h1M947,833.5h1M954,833.5h1M970,833.5h1M1044,833.5h1M1048,833.5h3M1076,833.5h1M1079,833.5h2M1095,833.5h1M1105,833.5h1M1137,833.5h1M1194,833.5h1M434,834.5h4M491,834.5h1M508,834.5h2M536,834.5h3M545,834.5h3M550,834.5h1M615,834.5h1M640,834.5h1M649,834.5h2M660,834.5h4M692,834.5h2M947,834.5h1M955,834.5h1M968,834.5h2M1045,834.5h3M1077,834.5h2M1096,834.5h1M1104,834.5h1M1138,834.5h1M1194,834.5h1M427,835.5h7M492,835.5h1M507,835.5h1M510,835.5h2M524,835.5h6M535,835.5h1M548,835.5h2M616,835.5h1M639,835.5h1M651,835.5h1M657,835.5h3M664,835.5h3M691,835.5h1M693,835.5h1M947,835.5h1M956,835.5h1M966,835.5h2M1096,835.5h1M1104,835.5h1M1138,835.5h1M1194,835.5h1M424,836.5h3M493,836.5h3M504,836.5h3M512,836.5h2M523,836.5h1M530,836.5h5M617,836.5h1M638,836.5h1M652,836.5h1M655,836.5h2M667,836.5h5M688,836.5h3M694,836.5h1M947,836.5h1M957,836.5h9M1097,836.5h1M1104,836.5h1M1138,836.5h1M1193,836.5h1M405,837.5h1M421,837.5h3M496,837.5h3M503,837.5h1M514,837.5h1M520,837.5h3M618,837.5h1M634,837.5h4M653,837.5h2M672,837.5h3M687,837.5h1M694,837.5h1M946,837.5h1M1098,837.5h1M1103,837.5h1M1139,837.5h1M1193,837.5h1M405,838.5h3M419,838.5h2M499,838.5h4M515,838.5h2M519,838.5h1M619,838.5h1M627,838.5h7M675,838.5h12M695,838.5h1M946,838.5h1M1098,838.5h1M1103,838.5h1M1139,838.5h1M1193,838.5h1M261,839.5h1M404,839.5h1M408,839.5h2M418,839.5h1M517,839.5h2M620,839.5h1M624,839.5h3M695,839.5h1M946,839.5h1M1099,839.5h1M1103,839.5h1M1139,839.5h1M1192,839.5h1M213,840.5h3M260,840.5h1M262,840.5h1M404,840.5h1M410,840.5h1M416,840.5h2M621,840.5h3M696,840.5h1M945,840.5h1M1099,840.5h1M1102,840.5h1M1140,840.5h1M1192,840.5h1M37,841.5h9M212,841.5h1M216,841.5h3M259,841.5h1M262,841.5h1M403,841.5h1M411,841.5h2M414,841.5h2M696,841.5h1M892,841.5h2M945,841.5h1M1100,841.5h1M1102,841.5h1M1140,841.5h1M1192,841.5h1M35,842.5h2M46,842.5h2M212,842.5h1M219,842.5h3M257,842.5h2M263,842.5h1M403,842.5h1M413,842.5h1M697,842.5h1M891,842.5h1M893,842.5h1M945,842.5h1M1100,842.5h2M1140,842.5h1M1191,842.5h1M34,843.5h1M48,843.5h2M211,843.5h1M222,843.5h1M256,843.5h1M264,843.5h1M402,843.5h1M697,843.5h1M888,843.5h3M894,843.5h1M945,843.5h1M1101,843.5h1M1141,843.5h1M1191,843.5h1M32,844.5h2M50,844.5h1M210,844.5h1M223,844.5h2M255,844.5h1M265,844.5h1M285,844.5h1M402,844.5h1M697,844.5h1M887,844.5h1M895,844.5h1M944,844.5h1M1141,844.5h1M1191,844.5h1M30,845.5h2M51,845.5h2M209,845.5h1M225,845.5h1M254,845.5h1M265,845.5h1M284,845.5h1M286,845.5h1M402,845.5h1M698,845.5h1M885,845.5h2M895,845.5h1M944,845.5h1M1141,845.5h1M1191,845.5h1M29,846.5h1M53,846.5h1M209,846.5h1M226,846.5h2M253,846.5h1M266,846.5h1M282,846.5h2M287,846.5h1M401,846.5h1M698,846.5h1M883,846.5h2M895,846.5h1M944,846.5h1M1142,846.5h1M1173,846.5h5M1190,846.5h1M28,847.5h1M53,847.5h1M208,847.5h1M228,847.5h1M251,847.5h2M267,847.5h1M281,847.5h1M288,847.5h1M401,847.5h1M699,847.5h1M882,847.5h1M896,847.5h1M943,847.5h1M1143,847.5h1M1172,847.5h1M1178,847.5h5M1190,847.5h1M13,848.5h2M26,848.5h2M54,848.5h1M207,848.5h1M229,848.5h5M250,848.5h1M268,848.5h1M279,848.5h2M289,848.5h1M400,848.5h1M699,848.5h1M880,848.5h2M897,848.5h1M943,848.5h1M1143,848.5h1M1172,848.5h1M1183,848.5h2M1190,848.5h1M12,849.5h1M15,849.5h1M25,849.5h1M54,849.5h1M206,849.5h1M234,849.5h6M248,849.5h2M268,849.5h1M278,849.5h1M290,849.5h1M400,849.5h1M700,849.5h1M878,849.5h2M897,849.5h1M943,849.5h1M1143,849.5h1M1171,849.5h1M1185,849.5h3M1189,849.5h1M11,850.5h1M16,850.5h3M23,850.5h2M54,850.5h1M206,850.5h1M240,850.5h3M246,850.5h2M269,850.5h9M291,850.5h1M349,850.5h2M400,850.5h1M700,850.5h1M781,850.5h1M866,850.5h12M897,850.5h1M943,850.5h1M1144,850.5h1M1170,850.5h1M1188,850.5h2M10,851.5h1M19,851.5h1M22,851.5h1M55,851.5h1M205,851.5h1M243,851.5h3M292,851.5h1M348,851.5h1M351,851.5h1M399,851.5h1M701,851.5h1M780,851.5h1M782,851.5h1M858,851.5h8M898,851.5h1M942,851.5h1M1145,851.5h1M1169,851.5h1M9,852.5h1M20,852.5h2M55,852.5h1M205,852.5h1M293,852.5h1M348,852.5h1M352,852.5h3M399,852.5h1M701,852.5h1M779,852.5h1M783,852.5h1M804,852.5h2M853,852.5h5M899,852.5h1M942,852.5h1M1145,852.5h1M1169,852.5h1M8,853.5h1M55,853.5h1M204,853.5h1M294,853.5h1M347,853.5h1M355,853.5h1M362,853.5h4M398,853.5h1M702,853.5h1M778,853.5h1M784,853.5h1M803,853.5h1M806,853.5h1M852,853.5h1M899,853.5h1M942,853.5h1M1145,853.5h1M1168,853.5h1M0,854.5h1M7,854.5h1M55,854.5h1M204,854.5h1M294,854.5h1M347,854.5h1M356,854.5h6M366,854.5h1M398,854.5h1M702,854.5h1M777,854.5h1M785,854.5h1M800,854.5h3M807,854.5h1M851,854.5h1M899,854.5h1M942,854.5h1M1146,854.5h1M1157,854.5h2M1167,854.5h1M1,855.5h3M6,855.5h1M56,855.5h1M204,855.5h1M295,855.5h1M346,855.5h1M366,855.5h1M397,855.5h1M703,855.5h1M738,855.5h5M776,855.5h1M786,855.5h1M799,855.5h1M808,855.5h1M851,855.5h1M900,855.5h1M941,855.5h1M1147,855.5h1M1156,855.5h1M1159,855.5h2M1166,855.5h1M4,856.5h2M56,856.5h1M203,856.5h1M296,856.5h1M346,856.5h1M367,856.5h1M381,856.5h3M395,856.5h3M703,856.5h1M732,856.5h6M743,856.5h1M775,856.5h1M787,856.5h1M795,856.5h4M809,856.5h1M850,856.5h1M901,856.5h1M924,856.5h18M1147,856.5h1M1154,856.5h2M1161,856.5h3M1166,856.5h1M56,857.5h1M203,857.5h1M297,857.5h1M345,857.5h1M367,857.5h1M380,857.5h1M384,857.5h3M392,857.5h3M704,857.5h1M731,857.5h1M744,857.5h3M765,857.5h5M774,857.5h1M788,857.5h1M792,857.5h3M809,857.5h1M849,857.5h1M901,857.5h5M923,857.5h1M1147,857.5h1M1153,857.5h1M1164,857.5h2M57,858.5h1M203,858.5h1M297,858.5h1M344,858.5h1M368,858.5h1M379,858.5h1M387,858.5h5M705,858.5h1M728,858.5h3M747,858.5h1M763,858.5h2M770,858.5h4M789,858.5h3M810,858.5h1M848,858.5h1M906,858.5h6M920,858.5h3M1148,858.5h1M1151,858.5h2M57,859.5h1M202,859.5h1M298,859.5h1M344,859.5h1M369,859.5h1M379,859.5h1M705,859.5h1M727,859.5h1M748,859.5h3M762,859.5h1M811,859.5h1M847,859.5h1M912,859.5h3M919,859.5h1M1149,859.5h2M57,860.5h1M202,860.5h1M299,860.5h1M343,860.5h1M369,860.5h1M378,860.5h1M706,860.5h1M724,860.5h3M751,860.5h2M760,860.5h2M812,860.5h1M847,860.5h1M915,860.5h4M1149,860.5h1M58,861.5h1M202,861.5h1M300,861.5h1M343,861.5h1M370,861.5h1M377,861.5h1M707,861.5h1M721,861.5h3M753,861.5h3M758,861.5h2M813,861.5h5M846,861.5h1M58,862.5h1M201,862.5h1M300,862.5h1M342,862.5h1M371,862.5h1M376,862.5h1M707,862.5h1M719,862.5h2M756,862.5h2M818,862.5h5M842,862.5h4M58,863.5h1M201,863.5h1M301,863.5h1M342,863.5h1M371,863.5h1M375,863.5h1M708,863.5h1M715,863.5h4M823,863.5h1M836,863.5h6M59,864.5h1M201,864.5h1M302,864.5h1M333,864.5h9M372,864.5h1M375,864.5h1M708,864.5h1M712,864.5h3M824,864.5h3M833,864.5h3M59,865.5h1M201,865.5h1M303,865.5h2M332,865.5h1M372,865.5h1M374,865.5h1M709,865.5h3M827,865.5h1M831,865.5h2M59,866.5h1M200,866.5h1M305,866.5h1M331,866.5h1M373,866.5h1M828,866.5h3M59,867.5h1M200,867.5h1M306,867.5h2M329,867.5h2M60,868.5h1M200,868.5h1M308,868.5h1M328,868.5h1M60,869.5h1M199,869.5h1M309,869.5h2M327,869.5h1M60,870.5h1M199,870.5h1M311,870.5h2M326,870.5h1M61,871.5h1M199,871.5h1M313,871.5h3M322,871.5h4M61,872.5h1M198,872.5h1M316,872.5h6M62,873.5h1M179,873.5h7M198,873.5h1M63,874.5h1M77,874.5h9M165,874.5h5M176,874.5h3M186,874.5h6M198,874.5h1M64,875.5h1M76,875.5h1M86,875.5h1M165,875.5h1M170,875.5h6M192,875.5h3M197,875.5h1M65,876.5h1M75,876.5h1M87,876.5h1M164,876.5h1M195,876.5h3M65,877.5h1M73,877.5h2M88,877.5h1M164,877.5h1M66,878.5h1M72,878.5h1M89,878.5h1M163,878.5h1M67,879.5h1M71,879.5h1M90,879.5h1M163,879.5h1M68,880.5h1M70,880.5h1M91,880.5h1M163,880.5h1M69,881.5h1M92,881.5h1M162,881.5h1M93,882.5h2M162,882.5h1M95,883.5h2M161,883.5h1M97,884.5h3M161,884.5h1M100,885.5h2M161,885.5h1M102,886.5h1M160,886.5h1M102,887.5h1M160,887.5h1M103,888.5h1M159,888.5h1M104,889.5h1M159,889.5h1M104,890.5h1M159,890.5h1M105,891.5h1M158,891.5h1M106,892.5h1M140,892.5h3M158,892.5h1M106,893.5h1M137,893.5h3M143,893.5h1M157,893.5h1M107,894.5h1M135,894.5h2M144,894.5h3M155,894.5h3M108,895.5h1M131,895.5h4M147,895.5h1M152,895.5h3M108,896.5h1M128,896.5h3M148,896.5h4M109,897.5h19"/>
</g>
<text x="1.6" y="783" font-size="9.6" fill="#000" stroke="#000" stroke-width="0.22" textLength="67.5" lengthAdjust="spacingAndGlyphs">RSI(14) 63.6838</text>
<text x="1629.5" y="780.7" font-size="9.6" fill="#000" stroke="#000" stroke-width="0.22" textLength="14.5" lengthAdjust="spacingAndGlyphs">100</text>
<text x="1629.5" y="806.8" font-size="9.6" fill="#000" stroke="#000" stroke-width="0.22" textLength="9.5" lengthAdjust="spacingAndGlyphs">80</text>
<text x="1629.5" y="853.7" font-size="9.6" fill="#000" stroke="#000" stroke-width="0.22" textLength="9.5" lengthAdjust="spacingAndGlyphs">50</text>
<text x="1629.5" y="909.5" font-size="9.6" fill="#000" stroke="#000" stroke-width="0.22" textLength="9.5" lengthAdjust="spacingAndGlyphs">15</text>
<text x="1629.5" y="927.5" font-size="9.6" fill="#000" stroke="#000" stroke-width="0.22">0</text>
<g shape-rendering="crispEdges">
<rect x="61" y="931" width="1" height="3" fill="#000"/>
<rect x="125" y="931" width="1" height="3" fill="#000"/>
<rect x="189" y="931" width="1" height="3" fill="#000"/>
<rect x="253" y="931" width="1" height="3" fill="#000"/>
<rect x="317" y="931" width="1" height="3" fill="#000"/>
<rect x="381" y="931" width="1" height="3" fill="#000"/>
<rect x="445" y="931" width="1" height="3" fill="#000"/>
<rect x="509" y="931" width="1" height="3" fill="#000"/>
<rect x="573" y="931" width="1" height="3" fill="#000"/>
<rect x="637" y="931" width="1" height="3" fill="#000"/>
<rect x="701" y="931" width="1" height="3" fill="#000"/>
<rect x="765" y="931" width="1" height="3" fill="#000"/>
<rect x="829" y="931" width="1" height="3" fill="#000"/>
<rect x="893" y="931" width="1" height="3" fill="#000"/>
<rect x="957" y="931" width="1" height="3" fill="#000"/>
<rect x="1021" y="931" width="1" height="3" fill="#000"/>
<rect x="1085" y="931" width="1" height="3" fill="#000"/>
<rect x="1149" y="931" width="1" height="3" fill="#000"/>
<rect x="1213" y="931" width="1" height="3" fill="#000"/>
<rect x="1277" y="931" width="1" height="3" fill="#000"/>
</g>
<text x="-4.8" y="943.1" font-size="9.6" fill="#000" stroke="#000" stroke-width="0.22" textLength="52.2" lengthAdjust="spacingAndGlyphs">30 Sep 2019</text>
<text x="61.3" y="943.1" font-size="9.6" fill="#000" stroke="#000" stroke-width="0.22" textLength="48" lengthAdjust="spacingAndGlyphs">1 Oct 12:00</text>
<text x="125.3" y="943.1" font-size="9.6" fill="#000" stroke="#000" stroke-width="0.22" textLength="48" lengthAdjust="spacingAndGlyphs">2 Oct 20:00</text>
<text x="189.3" y="943.1" font-size="9.6" fill="#000" stroke="#000" stroke-width="0.22" textLength="48" lengthAdjust="spacingAndGlyphs">4 Oct 04:00</text>
<text x="253.3" y="943.1" font-size="9.6" fill="#000" stroke="#000" stroke-width="0.22" textLength="48" lengthAdjust="spacingAndGlyphs">7 Oct 08:00</text>
<text x="317.3" y="943.1" font-size="9.6" fill="#000" stroke="#000" stroke-width="0.22" textLength="48" lengthAdjust="spacingAndGlyphs">8 Oct 16:00</text>
<text x="381.3" y="943.1" font-size="9.6" fill="#000" stroke="#000" stroke-width="0.22" textLength="53.5" lengthAdjust="spacingAndGlyphs">10 Oct 00:00</text>
<text x="445.3" y="943.1" font-size="9.6" fill="#000" stroke="#000" stroke-width="0.22" textLength="53.5" lengthAdjust="spacingAndGlyphs">11 Oct 08:00</text>
<text x="509.3" y="943.1" font-size="9.6" fill="#000" stroke="#000" stroke-width="0.22" textLength="53.5" lengthAdjust="spacingAndGlyphs">14 Oct 12:00</text>
<text x="573.3" y="943.1" font-size="9.6" fill="#000" stroke="#000" stroke-width="0.22" textLength="53.5" lengthAdjust="spacingAndGlyphs">15 Oct 20:00</text>
<text x="637.3" y="943.1" font-size="9.6" fill="#000" stroke="#000" stroke-width="0.22" textLength="53.5" lengthAdjust="spacingAndGlyphs">17 Oct 04:00</text>
<text x="701.3" y="943.1" font-size="9.6" fill="#000" stroke="#000" stroke-width="0.22" textLength="53.5" lengthAdjust="spacingAndGlyphs">18 Oct 12:00</text>
<text x="765.3" y="943.1" font-size="9.6" fill="#000" stroke="#000" stroke-width="0.22" textLength="53.5" lengthAdjust="spacingAndGlyphs">21 Oct 16:00</text>
<text x="829.3" y="943.1" font-size="9.6" fill="#000" stroke="#000" stroke-width="0.22" textLength="53.5" lengthAdjust="spacingAndGlyphs">23 Oct 00:00</text>
<text x="893.3" y="943.1" font-size="9.6" fill="#000" stroke="#000" stroke-width="0.22" textLength="53.5" lengthAdjust="spacingAndGlyphs">24 Oct 08:00</text>
<text x="957.3" y="943.1" font-size="9.6" fill="#000" stroke="#000" stroke-width="0.22" textLength="53.5" lengthAdjust="spacingAndGlyphs">25 Oct 16:00</text>
<text x="1021.3" y="943.1" font-size="9.6" fill="#000" stroke="#000" stroke-width="0.22" textLength="53.5" lengthAdjust="spacingAndGlyphs">28 Oct 20:00</text>
<text x="1085.3" y="943.1" font-size="9.6" fill="#000" stroke="#000" stroke-width="0.22" textLength="53.5" lengthAdjust="spacingAndGlyphs">30 Oct 04:00</text>
<text x="1149.3" y="943.1" font-size="9.6" fill="#000" stroke="#000" stroke-width="0.22" textLength="53.5" lengthAdjust="spacingAndGlyphs">31 Oct 12:00</text>
<text x="1213.3" y="943.1" font-size="9.6" fill="#000" stroke="#000" stroke-width="0.22" textLength="48" lengthAdjust="spacingAndGlyphs">1 Nov 20:00</text>
<text x="1277.3" y="943.1" font-size="9.6" fill="#000" stroke="#000" stroke-width="0.22" textLength="48" lengthAdjust="spacingAndGlyphs">5 Nov 00:00</text>
<g shape-rendering="crispEdges">
<rect x="0" y="951" width="1672" height="2" fill="#f0f0f0"/>
<rect x="0" y="951" width="1672" height="1" fill="#e6e6e6"/>
<rect x="1671" y="28" width="1" height="925" fill="#f0f0f0"/>
</g>
<!-- one click trading panel -->
<defs><linearGradient id="gTab" x1="0" y1="0" x2="0" y2="1"><stop offset="0" stop-color="#f65353"/><stop offset="1" stop-color="#e03a3a"/></linearGradient><linearGradient id="gBody" x1="0" y1="0" x2="0" y2="1"><stop offset="0" stop-color="#dc3232"/><stop offset="0.5" stop-color="#c81e1e"/><stop offset="1" stop-color="#a80404"/></linearGradient><linearGradient id="gBtn" x1="0" y1="0" x2="0" y2="1"><stop offset="0" stop-color="#f4f4f4"/><stop offset="1" stop-color="#dcdcdc"/></linearGradient></defs>
<g shape-rendering="crispEdges">
<rect x="0" y="49" width="221" height="66" fill="#fff"/>
<rect x="1" y="50" width="51" height="25" fill="url(#gTab)"/>
<rect x="1" y="50" width="51" height="1" fill="#d83030"/>
<rect x="1" y="50" width="1" height="25" fill="#d83030"/>
<rect x="51" y="50" width="1" height="25" fill="#d83030"/>
<rect x="168" y="50" width="51" height="25" fill="url(#gTab)"/>
<rect x="168" y="50" width="51" height="1" fill="#d83030"/>
<rect x="168" y="50" width="1" height="25" fill="#d83030"/>
<rect x="218" y="50" width="1" height="25" fill="#d83030"/>
<rect x="1" y="74" width="108" height="40" fill="url(#gBody)"/>
<rect x="111" y="74" width="108" height="40" fill="url(#gBody)"/>
<rect x="1" y="113" width="108" height="1" fill="#9a0000"/>
<rect x="111" y="113" width="108" height="1" fill="#9a0000"/>
<rect x="4" y="73" width="44" height="1" fill="#f49a9a"/>
<rect x="171" y="73" width="44" height="1" fill="#f49a9a"/>
<rect x="54" y="50" width="111" height="22" fill="#a8a8a8"/>
<rect x="55" y="51" width="109" height="20" fill="#fff"/>
<rect x="55" y="51" width="20" height="20" fill="url(#gBtn)"/>
<rect x="143" y="51" width="21" height="20" fill="url(#gBtn)"/>
<rect x="75" y="51" width="1" height="20" fill="#b8b8b8"/>
<rect x="143" y="51" width="1" height="20" fill="#b8b8b8"/>
</g>
<path d="M62,59 h5 l-2.5,3 z" fill="#111"/><path d="M151,62 h5 l-2.5,-3 z" fill="#111"/>
<text x="12.3" y="65.7" font-size="12.4" fill="#fff" textLength="25.6" lengthAdjust="spacingAndGlyphs">SELL</text>
<text x="180.2" y="65.7" font-size="12.4" fill="#fff" textLength="23.2" lengthAdjust="spacingAndGlyphs">BUY</text>
<text x="116.7" y="65.0" font-size="12.2" fill="#111" textLength="23.4" lengthAdjust="spacingAndGlyphs">1.00</text>
<text x="16.1" y="104.7" font-size="12.4" fill="#fff" font-weight="bold" textLength="35.2" lengthAdjust="spacingAndGlyphs">27414</text>
<text x="125.9" y="104.7" font-size="12.4" fill="#fff" font-weight="bold" textLength="35.2" lengthAdjust="spacingAndGlyphs">27423</text>
<text transform="translate(52.9,104.8) scale(0.89,1)" font-size="34" fill="#fff">.</text>
<text transform="translate(61.5,104.8) scale(0.89,1)" font-size="34" fill="#fff">5</text>
<text transform="translate(164.3,104.8) scale(0.89,1)" font-size="34" fill="#fff">.</text>
<text transform="translate(172.9,104.8) scale(0.89,1)" font-size="34" fill="#fff">5</text>
<!-- toolbar -->
<g shape-rendering="crispEdges">
<rect x="0" y="0" width="1672" height="26" fill="#f0f0f0"/>
<rect x="0" y="0" width="1672" height="1" fill="#fbfbfb"/>
<rect x="0" y="25" width="1672" height="1" fill="#dcdcdc"/>
<rect x="0" y="26" width="1672" height="1" fill="#a6a6a6"/>
<rect x="0" y="27" width="1672" height="1" fill="#6b6b6b"/>
</g>
<path d="M0,6.5 h5 l3,3 v7 h-8 z" fill="#fdfdfd" stroke="#9a9a9a" stroke-width="1"/>
<path d="M0,10.5 h5 M0,12.5 h4" stroke="#8a8a8a" stroke-width="1"/>
<path d="M3.8,13 h3.6 v3.8 h4 v3.6 h-4 v4 h-3.6 v-4 h-4 v-3.6 h4 z" fill="#22c83a" stroke="#0c8a1c" stroke-width="0.8"/>
<g>
<text x="14.9" y="17.5" font-size="12.3" fill="#000" textLength="36.15" lengthAdjust="spacingAndGlyphs" style="font-family:'Liberation Sans','Noto Sans CJK SC',sans-serif">新订单</text>
</g>
<defs><linearGradient id="gBook" x1="0.2" y1="0" x2="0.6" y2="1"><stop offset="0" stop-color="#cf9c12"/><stop offset="0.5" stop-color="#fbe05a"/><stop offset="1" stop-color="#d0a016"/></linearGradient></defs>
<path d="M63,15.6 L70.4,21.6 L79,15.4 L78.6,13.8 L70.4,19.4 L63.6,14.6 Z" fill="#b8862c" stroke="#8a5a12" stroke-width="0.7"/>
<path d="M67.8,6.9 L78.6,14 L70.5,19.5 L63.1,15.3 C65.6,13 66.6,10 67.8,6.9 Z" fill="url(#gBook)" stroke="#a87414" stroke-width="0.8"/>
<path d="M64.4,16.8 L70.5,20.6 L78.2,15.2" fill="none" stroke="#e6c66a" stroke-width="0.6"/>
<defs><linearGradient id="gCloud" x1="0" y1="0" x2="0" y2="1"><stop offset="0" stop-color="#ffffff"/><stop offset="1" stop-color="#c9d6ee"/></linearGradient><linearGradient id="gSrv" x1="0" y1="0" x2="1" y2="0"><stop offset="0" stop-color="#8fd0ff"/><stop offset="0.22" stop-color="#2a9bff"/><stop offset="1" stop-color="#0f7ff0"/></linearGradient></defs>
<path d="M93.3,7.4 l3.6,-1.6 h7.2 v10 h-10.8 z" fill="url(#gSrv)" stroke="#1c64c0" stroke-width="0.7"/>
<path d="M96.6,6.2 l0.4,9.4" stroke="#bfe2ff" stroke-width="0.9" fill="none"/>
<rect x="97.8" y="9.8" width="5" height="2" fill="#cfe8ff"/><rect x="98.6" y="10.5" width="3.4" height="0.7" fill="#3a8de0"/>
<path d="M94,21.4 a3,3 0 0 1 -0.4,-5.9 a3.3,3.3 0 0 1 5.8,-1.4 a3.2,3.2 0 0 1 5,1.7 a2.8,2.8 0 0 1 -0.2,5.6 z" fill="url(#gCloud)" stroke="#4a6cb0" stroke-width="1"/>
<defs><linearGradient id="gSig" x1="0" y1="0" x2="1" y2="1"><stop offset="0" stop-color="#3a6fe0"/><stop offset="0.5" stop-color="#4a80d8"/><stop offset="0.75" stop-color="#58a868"/><stop offset="1" stop-color="#3aa03a"/></linearGradient><radialGradient id="gSigF" cx="0.65" cy="0.65" r="0.6"><stop offset="0" stop-color="#9fd49f" stop-opacity="0.85"/><stop offset="1" stop-color="#e8f2ff" stop-opacity="0.2"/></radialGradient></defs>
<circle cx="127" cy="13.8" r="7.6" fill="url(#gSigF)"/>
<g fill="none" stroke="url(#gSig)"><circle cx="127" cy="13.8" r="7.3" stroke-width="1.2" opacity="0.7"/><circle cx="127" cy="13.8" r="4.6" stroke-width="1.2" opacity="0.9"/></g>
<circle cx="127" cy="13.6" r="1.7" fill="#1f56cc"/>
<rect x="126.9" y="14.2" width="1.5" height="7.4" fill="#1aa81a"/>
<path d="M147,13.5 L161,13.5 L156.5,21.8 L152.5,21.8 Z" fill="#f2cf3a" stroke="#c09a18" stroke-width="0.8"/>
<ellipse cx="154" cy="11.6" rx="7.8" ry="2.6" fill="#4aa3dc" stroke="#2c78b4" stroke-width="0.7"/>
<path d="M149.6,11 a4.4,4.6 0 0 1 8.8,0 z" fill="#6dbbe8" stroke="#2c78b4" stroke-width="0.7"/>
<circle cx="158.6" cy="17.8" r="4.1" fill="#dc2a12"/><rect x="157" y="16.2" width="3.2" height="3.2" fill="#fff"/>
<g>
<text x="167.6" y="17.7" font-size="12.1" fill="#000" textLength="46.6" lengthAdjust="spacingAndGlyphs" style="font-family:'Liberation Sans','Noto Sans CJK SC',sans-serif">自动交易</text>
</g>
<g shape-rendering="crispEdges">
<rect x="222" y="1" width="1" height="25" fill="#8c8c8c"/>
<rect x="223" y="1" width="1" height="25" fill="#ffffff"/>
</g>
<g shape-rendering="crispEdges">
<rect x="226" y="4" width="3" height="1" fill="#a4a4a4"/>
<rect x="226" y="6" width="3" height="1" fill="#a4a4a4"/>
<rect x="226" y="8" width="3" height="1" fill="#a4a4a4"/>
<rect x="226" y="10" width="3" height="1" fill="#a4a4a4"/>
<rect x="226" y="12" width="3" height="1" fill="#a4a4a4"/>
<rect x="226" y="14" width="3" height="1" fill="#a4a4a4"/>
<rect x="226" y="16" width="3" height="1" fill="#a4a4a4"/>
<rect x="226" y="18" width="3" height="1" fill="#a4a4a4"/>
<rect x="226" y="20" width="3" height="1" fill="#a4a4a4"/>
<rect x="226" y="22" width="3" height="1" fill="#a4a4a4"/>
</g>
<g stroke="#555555" stroke-width="1.05" fill="none"><path d="M240.5,8.5 V22 M237.5,19.8 H250"/></g>
<path d="M240.5,7 l-2,3 h4 z M252,19.8 l-3,-2 v4 z" fill="#555555"/>
<path d="M246.5,9.5 V18 M246.5,10.5 H249.5 M246.5,16.8 H243.8" stroke="#0b8a0b" stroke-width="1.4" fill="none"/>
<g shape-rendering="crispEdges">
<rect x="260" y="2" width="25" height="22" fill="#f7f7f7"/>
<rect x="260" y="2" width="25" height="1" fill="#8a8a8a"/>
<rect x="260" y="2" width="1" height="22" fill="#8a8a8a"/>
<rect x="284" y="3" width="1" height="21" fill="#fdfdfd"/>
<rect x="261" y="23" width="24" height="1" fill="#fdfdfd"/>
</g>
<g stroke="#555555" stroke-width="1.05" fill="none"><path d="M268.5,8.5 V22 M265.5,19.8 H278"/></g>
<path d="M268.5,7 l-2,3 h4 z M280,19.8 l-3,-2 v4 z" fill="#555555"/>
<path d="M274.5,6 V18" stroke="#0b8a0b" stroke-width="1.3"/><rect x="272.6" y="8.5" width="3.9" height="7" fill="#4ee04e" stroke="#0b8a0b" stroke-width="1"/>
<g stroke="#555555" stroke-width="1.05" fill="none"><path d="M296.5,8.5 V22 M293.5,19.8 H306"/></g>
<path d="M296.5,7 l-2,3 h4 z M308,19.8 l-3,-2 v4 z" fill="#555555"/>
<path d="M295,16.8 C298,15 299.5,11 301.5,11.5 C303.5,12 304.5,14.6 307,15.2" stroke="#2a9a2a" stroke-width="1.3" fill="none"/>
<g shape-rendering="crispEdges">
<rect x="317" y="3" width="1" height="21" fill="#a0a0a0"/>
</g>
<path d="M335.6,15.8 L340.8,21" stroke="#b8941c" stroke-width="3.2" stroke-linecap="round"/>
<path d="M336,16 L340.6,20.6" stroke="#f0d860" stroke-width="1.4" stroke-linecap="round"/>
<circle cx="332" cy="12" r="5.4" fill="#d8ecfb" stroke="#3d84d6" stroke-width="1.3"/>
<path d="M329,12 h6" stroke="#3d86b4" stroke-width="1.7"/>
<path d="M332,9 v6" stroke="#3d86b4" stroke-width="1.7"/>
<path d="M363.8,15.8 L369.0,21" stroke="#b8941c" stroke-width="3.2" stroke-linecap="round"/>
<path d="M364.2,16 L368.8,20.6" stroke="#f0d860" stroke-width="1.4" stroke-linecap="round"/>
<circle cx="360.2" cy="12" r="5.4" fill="#d8ecfb" stroke="#3d84d6" stroke-width="1.3"/>
<path d="M357.2,12 h6" stroke="#3d86b4" stroke-width="1.7"/>
<rect x="382" y="6" width="8" height="8" fill="#3ea51e"/>
<rect x="382" y="6" width="8" height="2.4" fill="#2d8a12"/>
<rect x="383.4" y="9.6" width="5.2" height="3.4" fill="#f4f8ff"/>
<rect x="384.2" y="10.6" width="3.6" height="0.9" fill="#3ea51e" opacity="0.55"/>
<rect x="390" y="6" width="8" height="8" fill="#2d62d8"/>
<rect x="390" y="6" width="8" height="2.4" fill="#1a46b8"/>
<rect x="391.4" y="9.6" width="5.2" height="3.4" fill="#f4f8ff"/>
<rect x="392.2" y="10.6" width="3.6" height="0.9" fill="#2d62d8" opacity="0.55"/>
<rect x="382" y="14" width="8" height="8" fill="#2d62d8"/>
<rect x="382" y="14" width="8" height="2.4" fill="#1a46b8"/>
<rect x="383.4" y="17.6" width="5.2" height="3.4" fill="#f4f8ff"/>
<rect x="384.2" y="18.6" width="3.6" height="0.9" fill="#2d62d8" opacity="0.55"/>
<rect x="390" y="14" width="8" height="8" fill="#3ea51e"/>
<rect x="390" y="14" width="8" height="2.4" fill="#2d8a12"/>
<rect x="391.4" y="17.6" width="5.2" height="3.4" fill="#f4f8ff"/>
<rect x="392.2" y="18.6" width="3.6" height="0.9" fill="#3ea51e" opacity="0.55"/>
<g shape-rendering="crispEdges">
<rect x="407" y="3" width="1" height="21" fill="#a0a0a0"/>
</g>
<g shape-rendering="crispEdges">
<rect x="412" y="2" width="25" height="22" fill="#f7f7f7"/>
<rect x="412" y="2" width="25" height="1" fill="#8a8a8a"/>
<rect x="412" y="2" width="1" height="22" fill="#8a8a8a"/>
<rect x="436" y="3" width="1" height="21" fill="#fdfdfd"/>
<rect x="413" y="23" width="24" height="1" fill="#fdfdfd"/>
</g>
<g stroke="#555555" stroke-width="1.05" fill="none"><path d="M420.5,8.5 V22 M417.5,19.8 H430"/></g>
<path d="M420.5,7 l-2,3 h4 z M432,19.8 l-3,-2 v4 z" fill="#555555"/>
<path d="M425.4,10.4 L428.8,13.6 L425.4,16.8 Z" fill="#7fe87f" stroke="#18a018" stroke-width="0.9"/>
<g shape-rendering="crispEdges">
<rect x="440" y="2" width="25" height="22" fill="#f7f7f7"/>
<rect x="440" y="2" width="25" height="1" fill="#8a8a8a"/>
<rect x="440" y="2" width="1" height="22" fill="#8a8a8a"/>
<rect x="464" y="3" width="1" height="21" fill="#fdfdfd"/>
<rect x="441" y="23" width="24" height="1" fill="#fdfdfd"/>
</g>
<g stroke="#555555" stroke-width="1.05" fill="none"><path d="M448.5,8.5 V22 M445.5,19.8 H458"/></g>
<path d="M448.5,7 l-2,3 h4 z M460,19.8 l-3,-2 v4 z" fill="#555555"/>
<path d="M454.5,8 V18" stroke="#1a78b8" stroke-width="1.3"/>
<path d="M456,13.5 H460.2 M456,13.5 l2.4,-2.2 M456,13.5 l2.4,2.2" stroke="#d84a0a" stroke-width="1.2" fill="none"/>
<g shape-rendering="crispEdges">
<rect x="469" y="3" width="1" height="21" fill="#a0a0a0"/>
</g>
<path d="M479.5,6.5 h8 l3.5,3.5 v9.5 h-11.5 z" fill="#fcfcfc" stroke="#8e8e8e" stroke-width="0.9"/>
<path d="M484,8.5 c-2,0 -1.4,2.6 -1.4,4.6 M481.6,11 h3" stroke="#6b6b4a" stroke-width="0.9" fill="none"/>
<path d="M487.2,12 h3.6 v4 h4 v3.6 h-4 v4 h-3.6 v-4 h-4 v-3.6 h4 z" fill="#22c83a" stroke="#0c8a1c" stroke-width="0.8"/>
<path d="M500.8,13 h5 l-2.5,3 z" fill="#000"/>
<circle cx="525" cy="14" r="7.2" fill="#f4f8fc" stroke="#1b6fd0" stroke-width="2.2"/>
<path d="M525,14 V9.8 M525,14 L528,15" stroke="#303030" stroke-width="1.2" fill="none"/>
<path d="M525,18.6 v1" stroke="#6aa6e8" stroke-width="1"/>
<path d="M540.2,13 h5 l-2.5,3 z" fill="#000"/>
<rect x="556" y="7" width="16" height="14" fill="#3f7fd6"/>
<rect x="557" y="9.6" width="14" height="10.4" fill="#ffffff"/>
<rect x="556" y="7" width="16" height="1.2" fill="#8ab6f0"/>
<rect x="557" y="14.6" width="14" height="0.8" fill="#3f7fd6"/>
<path d="M558.5,13 l2,-0.2 l2.4,-1.6 l2.2,1 l2.4,-0.4 l2,-1" stroke="#b01c10" stroke-width="1.2" fill="none"/>
<path d="M559,18 l2,-1 l2,0.8 l2.6,-1.8 l1.6,0.6 l1.6,1.6" stroke="#1a9a1a" stroke-width="1.2" fill="none"/>
<path d="M578.8,13 h5 l-2.5,3 z" fill="#000"/>
<g shape-rendering="crispEdges">
<rect x="590" y="1" width="1" height="25" fill="#8c8c8c"/>
<rect x="591" y="1" width="1" height="25" fill="#ffffff"/>
</g>
<g shape-rendering="crispEdges">
<rect x="594" y="4" width="3" height="1" fill="#a4a4a4"/>
<rect x="594" y="6" width="3" height="1" fill="#a4a4a4"/>
<rect x="594" y="8" width="3" height="1" fill="#a4a4a4"/>
<rect x="594" y="10" width="3" height="1" fill="#a4a4a4"/>
<rect x="594" y="12" width="3" height="1" fill="#a4a4a4"/>
<rect x="594" y="14" width="3" height="1" fill="#a4a4a4"/>
<rect x="594" y="16" width="3" height="1" fill="#a4a4a4"/>
<rect x="594" y="18" width="3" height="1" fill="#a4a4a4"/>
<rect x="594" y="20" width="3" height="1" fill="#a4a4a4"/>
<rect x="594" y="22" width="3" height="1" fill="#a4a4a4"/>
</g>
<g shape-rendering="crispEdges">
<rect x="600" y="2" width="25" height="22" fill="#f7f7f7"/>
<rect x="600" y="2" width="25" height="1" fill="#8a8a8a"/>
<rect x="600" y="2" width="1" height="22" fill="#8a8a8a"/>
<rect x="624" y="3" width="1" height="21" fill="#fdfdfd"/>
<rect x="601" y="23" width="24" height="1" fill="#fdfdfd"/>
</g>
<path d="M608,7 L608,18.6 L610.6,16.2 L612.8,21 L614.8,20 L612.6,15.4 L616,14.8 Z" fill="#4b4b4b"/>
<path d="M633,14.5 H639.2 M641.8,14.5 H648 M640.5,7 V13.2 M640.5,15.8 V22" stroke="#555555" stroke-width="1.3"/>
<g shape-rendering="crispEdges">
<rect x="657" y="3" width="1" height="21" fill="#a0a0a0"/>
</g>
<path d="M674.5,8 V21" stroke="#555555" stroke-width="1.1"/>
<path d="M697,14.5 H709" stroke="#555555" stroke-width="1.1"/>
<path d="M724.8,20.8 L736.9,8.8" stroke="#555555" stroke-width="1.05"/>
<path d="M750.6,16 L759.6,7.6 M752,20.4 L764.6,12 M752.6,14.6 l0.6,5 M755.4,12.4 l0.6,5.6 M758.4,10 l0.8,5.6 M761.6,6.4 l0.8,6.6" stroke="#555555" stroke-width="1.1" fill="none"/>
<text x="761.6" y="23" font-size="7" font-weight="bold" fill="#333">E</text>
<path d="M780,7.5 H793" stroke="#555555" stroke-width="1" stroke-dasharray="1,1"/>
<path d="M780,10.5 H793" stroke="#555555" stroke-width="1" stroke-dasharray="1,1"/>
<path d="M780,14.5 H793" stroke="#555555" stroke-width="1" stroke-dasharray="1,1"/>
<path d="M780,18.5 H789" stroke="#555555" stroke-width="1" stroke-dasharray="1,1"/>
<text x="789.6" y="23" font-size="7" font-weight="bold" fill="#333">F</text>
<text x="810.6" y="19.2" font-size="13.2" fill="#5a5a5a" stroke="#5a5a5a" stroke-width="0.35" textLength="8.2" lengthAdjust="spacingAndGlyphs">A</text>
<rect x="837.3" y="8.4" width="11" height="12" fill="none" stroke="#555555" stroke-width="1" stroke-dasharray="1,1"/>
<text x="839" y="19" font-size="10.5" fill="#555" font-weight="bold">T</text>
<path d="M867.2,8 l4,4.6 h-8 z M874.8,20.6 l4,-4.6 h-8 z" fill="#555555"/><path d="M867,15.2 l2.2,2.4 l6,-6.4" stroke="#555555" stroke-width="1.2" fill="none"/>
<path d="M885,13 h5 l-2.5,3 z" fill="#000"/>
<g shape-rendering="crispEdges">
<rect x="896" y="1" width="1" height="25" fill="#8c8c8c"/>
<rect x="897" y="1" width="1" height="25" fill="#ffffff"/>
</g>
<g shape-rendering="crispEdges">
<rect x="900" y="4" width="3" height="1" fill="#a4a4a4"/>
<rect x="900" y="6" width="3" height="1" fill="#a4a4a4"/>
<rect x="900" y="8" width="3" height="1" fill="#a4a4a4"/>
<rect x="900" y="10" width="3" height="1" fill="#a4a4a4"/>
<rect x="900" y="12" width="3" height="1" fill="#a4a4a4"/>
<rect x="900" y="14" width="3" height="1" fill="#a4a4a4"/>
<rect x="900" y="16" width="3" height="1" fill="#a4a4a4"/>
<rect x="900" y="18" width="3" height="1" fill="#a4a4a4"/>
<rect x="900" y="20" width="3" height="1" fill="#a4a4a4"/>
<rect x="900" y="22" width="3" height="1" fill="#a4a4a4"/>
</g>
<g shape-rendering="crispEdges">
<rect x="1046" y="2" width="25" height="22" fill="#f7f7f7"/>
<rect x="1046" y="2" width="25" height="1" fill="#8a8a8a"/>
<rect x="1046" y="2" width="1" height="22" fill="#8a8a8a"/>
<rect x="1070" y="3" width="1" height="21" fill="#fdfdfd"/>
<rect x="1047" y="23" width="24" height="1" fill="#fdfdfd"/>
</g>
<text x="918" y="18.1" font-size="10.9" fill="#333333" text-anchor="middle" textLength="12.5" lengthAdjust="spacingAndGlyphs">M1</text>
<text x="946" y="18.1" font-size="10.9" fill="#333333" text-anchor="middle" textLength="12.6" lengthAdjust="spacingAndGlyphs">M5</text>
<text x="974.4" y="18.1" font-size="10.9" fill="#333333" text-anchor="middle" textLength="18.1" lengthAdjust="spacingAndGlyphs">M15</text>
<text x="1002.2" y="18.1" font-size="10.9" fill="#333333" text-anchor="middle" textLength="17.5" lengthAdjust="spacingAndGlyphs">M30</text>
<text x="1030.4" y="18.1" font-size="10.9" fill="#333333" text-anchor="middle" textLength="11.6" lengthAdjust="spacingAndGlyphs">H1</text>
<text x="1057.9" y="18.1" font-size="10.9" fill="#333333" text-anchor="middle" textLength="12.5" lengthAdjust="spacingAndGlyphs">H4</text>
<text x="1086.5" y="18.1" font-size="10.9" fill="#333333" text-anchor="middle" textLength="11.6" lengthAdjust="spacingAndGlyphs">D1</text>
<text x="1115.3" y="18.1" font-size="10.9" fill="#333333" text-anchor="middle" textLength="14.1" lengthAdjust="spacingAndGlyphs">W1</text>
<text x="1141.8" y="18.1" font-size="10.9" fill="#333333" text-anchor="middle" textLength="14.5" lengthAdjust="spacingAndGlyphs">MN</text>
<g shape-rendering="crispEdges">
<rect x="1157" y="1" width="1" height="25" fill="#8c8c8c"/>
<rect x="1158" y="1" width="1" height="25" fill="#ffffff"/>
</g>
<path d="M1624.8,14 L1620,18.8" stroke="#2a62d0" stroke-width="2.4" stroke-linecap="round"/>
<circle cx="1627.6" cy="11.3" r="3.7" fill="#f4f6fa" stroke="#2a62d0" stroke-width="1.3"/>
<defs><linearGradient id="gBub" x1="0" y1="0" x2="0" y2="1"><stop offset="0" stop-color="#ffffff"/><stop offset="1" stop-color="#d6d8e2"/></linearGradient></defs>
<path d="M1656.2,15.4 a6.4,4.8 0 1 1 6.4,-0.1 l0.9,2.3 l-2.9,-1.9 z" fill="url(#gBub)" stroke="#8a8a8a" stroke-width="1"/>
<path d="M1649.4,19 a5,4 0 1 1 3.2,0.2 l-3.8,2.1 z" fill="url(#gBub)" stroke="#8a8a8a" stroke-width="1"/>
</svg>
</body></html>
